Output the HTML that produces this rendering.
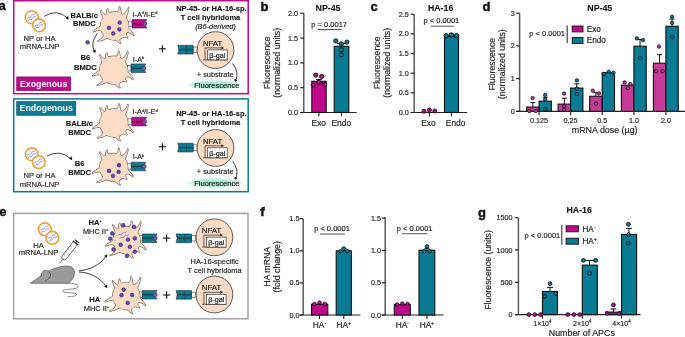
<!DOCTYPE html>
<html><head><meta charset="utf-8"><style>
html,body{margin:0;padding:0;background:#fff;width:685px;height:337px;overflow:hidden}
svg{display:block;will-change:transform}
text{font-family:"Liberation Sans",sans-serif}
</style></head><body>
<svg width="685" height="337" viewBox="0 0 685 337">
<defs><radialGradient id="glow" cx="50%" cy="50%" r="50%"><stop offset="0%" stop-color="#9be8c9"/><stop offset="50%" stop-color="#aeeed5"/><stop offset="78%" stop-color="#d6f6ea"/><stop offset="100%" stop-color="#ffffff" stop-opacity="0"/></radialGradient></defs>
<text x="-1.5" y="9.8" font-size="13" text-anchor="start" font-weight="bold" font-style="normal" fill="#111" stroke="#111" stroke-width="0.45">a</text>
<rect x="13.7" y="0.7" width="234.5" height="93.0" fill="none" stroke="#C0088C" stroke-width="1.5"/>
<rect x="13.7" y="98.9" width="234.5" height="92.8" fill="none" stroke="#097B94" stroke-width="1.5"/>
<rect x="16.7" y="76.9" width="54.0" height="13.8" fill="#C0088C" stroke="#7a0a5c" stroke-width="0.6"/>
<text x="43.6" y="86.8" font-size="8.8" text-anchor="middle" font-weight="bold" font-style="normal" fill="#fff">Exogenous</text>
<rect x="16.7" y="101.5" width="59.1" height="13.8" fill="#097B94" stroke="#0a4a5a" stroke-width="0.6"/>
<text x="46.2" y="111.1" font-size="8.8" text-anchor="middle" font-weight="bold" font-style="normal" fill="#fff">Endogenous</text>
<circle cx="31.8" cy="17.3" r="6.4" fill="#fff" stroke="#E8A23A" stroke-width="1.6"/>
<path d="M27.50,18.70 q1.0,-2.4 2.0,-1.5 t2.0,-1.3 t2.0,-1.5 t2.0,-1.3" fill="none" stroke="#8575dc" stroke-width="0.75"/>
<path d="M28.40,21.00 q1.0,-2.4 2.0,-1.5 t2.0,-1.3 t2.0,-1.5 t2.0,-1.3" fill="none" stroke="#8575dc" stroke-width="0.75"/>
<circle cx="39.1" cy="25.3" r="6.4" fill="#fff" stroke="#E8A23A" stroke-width="1.6"/>
<path d="M34.80,26.70 q1.0,-2.4 2.0,-1.5 t2.0,-1.3 t2.0,-1.5 t2.0,-1.3" fill="none" stroke="#8575dc" stroke-width="0.75"/>
<path d="M35.70,29.00 q1.0,-2.4 2.0,-1.5 t2.0,-1.3 t2.0,-1.5 t2.0,-1.3" fill="none" stroke="#8575dc" stroke-width="0.75"/>
<text x="39.5" y="41.2" font-size="7.6" text-anchor="middle" font-weight="normal" font-style="normal" fill="#262626" stroke="#262626" stroke-width="0.18">NP or HA</text>
<text x="39.6" y="49.4" font-size="7.6" text-anchor="middle" font-weight="normal" font-style="normal" fill="#262626" stroke="#262626" stroke-width="0.18">mRNA-LNP</text>
<path d="M44.4,16.3 Q57,8 68.2,18.6" fill="none" stroke="#111" stroke-width="0.8"/>
<path d="M68.80,19.50 L68.09,15.92 L65.39,18.18Z" fill="#111"/>
<text x="84.2" y="17.8" font-size="7.6" text-anchor="middle" font-weight="bold" font-style="normal" fill="#111" stroke="#111" stroke-width="0.1">BALB/c</text>
<text x="84.4" y="26.3" font-size="7.6" text-anchor="middle" font-weight="bold" font-style="normal" fill="#111" stroke="#111" stroke-width="0.1">BMDC</text>
<rect x="128.1" y="21.1" width="4.0" height="5.3999999999999995" fill="#fff" stroke="#444" stroke-width="0.6"/>
<path d="M132.1,19.5 H146.9 Q143.3,23.8 146.9,28.1 H132.1 Z" fill="#C0088C" stroke="#333" stroke-width="0.6"/>
<line x1="132.1" y1="23.8" x2="143.4" y2="23.8" stroke="#3b1a35" stroke-width="1.3"/>
<circle cx="145.0" cy="23.8" r="2.0" fill="#7a52d0" stroke="#444" stroke-width="0.7"/>
<g fill="#7a6a60" stroke="#7a6a60" stroke-width="1.3" stroke-linejoin="round"><path d="M128.50,26.00 A14.0,14.0 0 1 1 100.50,26.00 A14.0,14.0 0 1 1 128.50,26.00Z"/><path d="M107.42,15.34 L106.74,15.15 L106.10,14.94 L105.48,14.70 L104.91,14.43 L104.37,14.13 L103.86,13.81 L103.39,13.46 L102.96,13.09 L102.56,12.71 L102.20,12.31 L101.86,11.89 L101.55,11.47 L101.25,11.04 L100.96,10.62 L100.63,10.75 L100.73,11.27 L100.87,11.80 L101.04,12.32 L101.22,12.86 L101.42,13.41 L101.63,13.97 L101.85,14.56 L102.08,15.16 L102.31,15.78 L102.55,16.43 L102.80,17.10 L103.06,17.81 L103.32,18.54 L103.60,19.29Z"/><path d="M111.06,13.67 L110.57,13.46 L110.11,13.23 L109.70,12.96 L109.33,12.68 L109.00,12.37 L108.71,12.04 L108.47,11.69 L108.27,11.33 L108.12,10.95 L108.00,10.57 L107.93,10.17 L107.88,9.77 L107.86,9.37 L107.85,8.95 L107.50,8.86 L107.30,9.25 L107.14,9.67 L107.00,10.10 L106.88,10.55 L106.78,11.01 L106.69,11.49 L106.60,11.98 L106.52,12.51 L106.45,13.05 L106.38,13.63 L106.32,14.24 L106.27,14.87 L106.23,15.55 L106.20,16.25Z"/><path d="M121.36,15.19 L121.26,14.42 L121.16,13.68 L121.05,12.97 L120.94,12.29 L120.83,11.64 L120.72,11.02 L120.61,10.42 L120.49,9.85 L120.37,9.29 L120.24,8.75 L120.10,8.23 L119.94,7.72 L119.75,7.23 L119.53,6.76 L119.18,6.85 L119.20,7.35 L119.20,7.84 L119.18,8.33 L119.12,8.82 L119.03,9.31 L118.90,9.79 L118.72,10.27 L118.50,10.75 L118.23,11.21 L117.92,11.66 L117.55,12.10 L117.14,12.52 L116.69,12.93 L116.19,13.31Z"/><path d="M125.28,19.11 L125.69,18.19 L126.07,17.29 L126.42,16.42 L126.75,15.57 L127.06,14.73 L127.35,13.91 L127.61,13.11 L127.86,12.32 L128.09,11.54 L128.30,10.76 L128.48,9.99 L128.63,9.21 L128.75,8.44 L128.82,7.65 L128.47,7.58 L128.20,8.30 L127.91,9.00 L127.60,9.69 L127.25,10.35 L126.87,11.00 L126.44,11.61 L125.96,12.19 L125.44,12.74 L124.87,13.26 L124.26,13.74 L123.60,14.17 L122.90,14.56 L122.17,14.91 L121.39,15.22Z"/><path d="M125.54,32.48 L126.23,32.35 L126.91,32.28 L127.58,32.27 L128.23,32.32 L128.87,32.42 L129.49,32.58 L130.08,32.79 L130.65,33.05 L131.19,33.37 L131.71,33.72 L132.21,34.12 L132.68,34.55 L133.13,35.01 L133.58,35.50 L133.89,35.31 L133.60,34.69 L133.27,34.09 L132.91,33.51 L132.52,32.94 L132.11,32.39 L131.68,31.83 L131.22,31.28 L130.74,30.73 L130.24,30.16 L129.70,29.60 L129.14,29.02 L128.54,28.44 L127.91,27.85 L127.24,27.25Z"/><path d="M121.95,36.41 L122.52,36.46 L123.06,36.52 L123.57,36.59 L124.04,36.67 L124.49,36.77 L124.91,36.88 L125.29,36.99 L125.65,37.11 L125.99,37.24 L126.30,37.38 L126.59,37.51 L126.86,37.63 L127.12,37.75 L127.38,37.84 L127.63,37.58 L127.50,37.33 L127.36,37.08 L127.21,36.82 L127.05,36.54 L126.88,36.25 L126.72,35.93 L126.56,35.58 L126.40,35.21 L126.26,34.81 L126.11,34.38 L125.98,33.91 L125.85,33.41 L125.74,32.88 L125.63,32.32Z"/><path d="M114.86,38.79 L115.35,39.31 L115.84,39.80 L116.30,40.25 L116.76,40.67 L117.19,41.07 L117.62,41.44 L118.03,41.79 L118.43,42.12 L118.82,42.42 L119.21,42.71 L119.60,42.98 L119.99,43.22 L120.40,43.44 L120.81,43.62 L121.02,43.32 L120.74,42.99 L120.49,42.66 L120.25,42.32 L120.04,41.96 L119.86,41.59 L119.72,41.19 L119.62,40.77 L119.57,40.34 L119.55,39.89 L119.59,39.43 L119.67,38.95 L119.79,38.46 L119.97,37.97 L120.19,37.46Z"/><path d="M104.36,33.81 L104.17,34.54 L103.94,35.25 L103.66,35.92 L103.33,36.55 L102.96,37.15 L102.54,37.71 L102.09,38.22 L101.59,38.69 L101.06,39.12 L100.50,39.51 L99.92,39.86 L99.30,40.18 L98.67,40.47 L98.02,40.75 L98.10,41.10 L98.83,41.02 L99.54,40.89 L100.26,40.73 L100.96,40.54 L101.67,40.32 L102.38,40.08 L103.10,39.82 L103.83,39.54 L104.58,39.23 L105.34,38.91 L106.12,38.56 L106.91,38.18 L107.73,37.78 L108.57,37.34Z"/><path d="M101.71,25.46 L100.96,25.96 L100.23,26.44 L99.53,26.91 L98.86,27.36 L98.21,27.81 L97.58,28.24 L96.97,28.66 L96.38,29.07 L95.81,29.48 L95.26,29.89 L94.72,30.30 L94.21,30.72 L93.72,31.15 L93.27,31.61 L93.49,31.90 L94.05,31.62 L94.62,31.35 L95.19,31.10 L95.79,30.88 L96.40,30.68 L97.03,30.53 L97.68,30.41 L98.35,30.34 L99.04,30.31 L99.74,30.33 L100.46,30.39 L101.18,30.51 L101.92,30.67 L102.67,30.88Z"/></g><g fill="#FCDCC5"><path d="M128.50,26.00 A14.0,14.0 0 1 1 100.50,26.00 A14.0,14.0 0 1 1 128.50,26.00Z"/><path d="M107.42,15.34 L106.74,15.15 L106.10,14.94 L105.48,14.70 L104.91,14.43 L104.37,14.13 L103.86,13.81 L103.39,13.46 L102.96,13.09 L102.56,12.71 L102.20,12.31 L101.86,11.89 L101.55,11.47 L101.25,11.04 L100.96,10.62 L100.63,10.75 L100.73,11.27 L100.87,11.80 L101.04,12.32 L101.22,12.86 L101.42,13.41 L101.63,13.97 L101.85,14.56 L102.08,15.16 L102.31,15.78 L102.55,16.43 L102.80,17.10 L103.06,17.81 L103.32,18.54 L103.60,19.29Z"/><path d="M111.06,13.67 L110.57,13.46 L110.11,13.23 L109.70,12.96 L109.33,12.68 L109.00,12.37 L108.71,12.04 L108.47,11.69 L108.27,11.33 L108.12,10.95 L108.00,10.57 L107.93,10.17 L107.88,9.77 L107.86,9.37 L107.85,8.95 L107.50,8.86 L107.30,9.25 L107.14,9.67 L107.00,10.10 L106.88,10.55 L106.78,11.01 L106.69,11.49 L106.60,11.98 L106.52,12.51 L106.45,13.05 L106.38,13.63 L106.32,14.24 L106.27,14.87 L106.23,15.55 L106.20,16.25Z"/><path d="M121.36,15.19 L121.26,14.42 L121.16,13.68 L121.05,12.97 L120.94,12.29 L120.83,11.64 L120.72,11.02 L120.61,10.42 L120.49,9.85 L120.37,9.29 L120.24,8.75 L120.10,8.23 L119.94,7.72 L119.75,7.23 L119.53,6.76 L119.18,6.85 L119.20,7.35 L119.20,7.84 L119.18,8.33 L119.12,8.82 L119.03,9.31 L118.90,9.79 L118.72,10.27 L118.50,10.75 L118.23,11.21 L117.92,11.66 L117.55,12.10 L117.14,12.52 L116.69,12.93 L116.19,13.31Z"/><path d="M125.28,19.11 L125.69,18.19 L126.07,17.29 L126.42,16.42 L126.75,15.57 L127.06,14.73 L127.35,13.91 L127.61,13.11 L127.86,12.32 L128.09,11.54 L128.30,10.76 L128.48,9.99 L128.63,9.21 L128.75,8.44 L128.82,7.65 L128.47,7.58 L128.20,8.30 L127.91,9.00 L127.60,9.69 L127.25,10.35 L126.87,11.00 L126.44,11.61 L125.96,12.19 L125.44,12.74 L124.87,13.26 L124.26,13.74 L123.60,14.17 L122.90,14.56 L122.17,14.91 L121.39,15.22Z"/><path d="M125.54,32.48 L126.23,32.35 L126.91,32.28 L127.58,32.27 L128.23,32.32 L128.87,32.42 L129.49,32.58 L130.08,32.79 L130.65,33.05 L131.19,33.37 L131.71,33.72 L132.21,34.12 L132.68,34.55 L133.13,35.01 L133.58,35.50 L133.89,35.31 L133.60,34.69 L133.27,34.09 L132.91,33.51 L132.52,32.94 L132.11,32.39 L131.68,31.83 L131.22,31.28 L130.74,30.73 L130.24,30.16 L129.70,29.60 L129.14,29.02 L128.54,28.44 L127.91,27.85 L127.24,27.25Z"/><path d="M121.95,36.41 L122.52,36.46 L123.06,36.52 L123.57,36.59 L124.04,36.67 L124.49,36.77 L124.91,36.88 L125.29,36.99 L125.65,37.11 L125.99,37.24 L126.30,37.38 L126.59,37.51 L126.86,37.63 L127.12,37.75 L127.38,37.84 L127.63,37.58 L127.50,37.33 L127.36,37.08 L127.21,36.82 L127.05,36.54 L126.88,36.25 L126.72,35.93 L126.56,35.58 L126.40,35.21 L126.26,34.81 L126.11,34.38 L125.98,33.91 L125.85,33.41 L125.74,32.88 L125.63,32.32Z"/><path d="M114.86,38.79 L115.35,39.31 L115.84,39.80 L116.30,40.25 L116.76,40.67 L117.19,41.07 L117.62,41.44 L118.03,41.79 L118.43,42.12 L118.82,42.42 L119.21,42.71 L119.60,42.98 L119.99,43.22 L120.40,43.44 L120.81,43.62 L121.02,43.32 L120.74,42.99 L120.49,42.66 L120.25,42.32 L120.04,41.96 L119.86,41.59 L119.72,41.19 L119.62,40.77 L119.57,40.34 L119.55,39.89 L119.59,39.43 L119.67,38.95 L119.79,38.46 L119.97,37.97 L120.19,37.46Z"/><path d="M104.36,33.81 L104.17,34.54 L103.94,35.25 L103.66,35.92 L103.33,36.55 L102.96,37.15 L102.54,37.71 L102.09,38.22 L101.59,38.69 L101.06,39.12 L100.50,39.51 L99.92,39.86 L99.30,40.18 L98.67,40.47 L98.02,40.75 L98.10,41.10 L98.83,41.02 L99.54,40.89 L100.26,40.73 L100.96,40.54 L101.67,40.32 L102.38,40.08 L103.10,39.82 L103.83,39.54 L104.58,39.23 L105.34,38.91 L106.12,38.56 L106.91,38.18 L107.73,37.78 L108.57,37.34Z"/><path d="M101.71,25.46 L100.96,25.96 L100.23,26.44 L99.53,26.91 L98.86,27.36 L98.21,27.81 L97.58,28.24 L96.97,28.66 L96.38,29.07 L95.81,29.48 L95.26,29.89 L94.72,30.30 L94.21,30.72 L93.72,31.15 L93.27,31.61 L93.49,31.90 L94.05,31.62 L94.62,31.35 L95.19,31.10 L95.79,30.88 L96.40,30.68 L97.03,30.53 L97.68,30.41 L98.35,30.34 L99.04,30.31 L99.74,30.33 L100.46,30.39 L101.18,30.51 L101.92,30.67 L102.67,30.88Z"/></g>
<circle cx="119.7" cy="22.6" r="1.85" fill="#6a45b8" stroke="#3a2470" stroke-width="0.6"/>
<circle cx="109" cy="27.9" r="1.85" fill="#6a45b8" stroke="#3a2470" stroke-width="0.6"/>
<circle cx="119.4" cy="29.4" r="1.85" fill="#6a45b8" stroke="#3a2470" stroke-width="0.6"/>
<circle cx="113.3" cy="33.4" r="1.85" fill="#6a45b8" stroke="#3a2470" stroke-width="0.6"/>
<text x="132.5" y="16.9" font-size="7.3" text-anchor="start" font-weight="normal" font-style="normal" fill="#222" stroke="#222" stroke-width="0.18">I-A<tspan font-size="3.9" dy="-2.8">d</tspan><tspan dy="2.8">/I-E<tspan font-size="3.9" dy="-2.8">d</tspan><tspan dy="2.8"></tspan></tspan></text>
<circle cx="87.6" cy="42.3" r="1.85" fill="#6a45b8" stroke="#3a2470" stroke-width="0.6"/>
<path d="M97.4,33.3 Q90,43 94.4,51.2" fill="none" stroke="#111" stroke-width="0.8"/>
<path d="M95.20,53.30 L95.89,49.71 L92.54,50.80Z" fill="#111"/>
<text x="85.4" y="60.4" font-size="7.6" text-anchor="middle" font-weight="bold" font-style="normal" fill="#111" stroke="#111" stroke-width="0.1">B6</text>
<text x="85.4" y="69.5" font-size="7.6" text-anchor="middle" font-weight="bold" font-style="normal" fill="#111" stroke="#111" stroke-width="0.1">BMDC</text>
<rect x="127.0" y="65.5" width="4.0" height="5.3999999999999995" fill="#fff" stroke="#444" stroke-width="0.6"/>
<path d="M131.0,63.9 H145.8 Q142.20000000000002,68.2 145.8,72.5 H131.0 Z" fill="#097B94" stroke="#333" stroke-width="0.6"/>
<line x1="131.0" y1="68.2" x2="142.3" y2="68.2" stroke="#1d3b42" stroke-width="1.3"/>
<circle cx="143.9" cy="68.2" r="2.0" fill="#7a52d0" stroke="#444" stroke-width="0.7"/>
<g fill="#7a6a60" stroke="#7a6a60" stroke-width="1.3" stroke-linejoin="round"><path d="M127.70,70.20 A14.0,14.0 0 1 1 99.70,70.20 A14.0,14.0 0 1 1 127.70,70.20Z"/><path d="M106.62,59.54 L105.94,59.35 L105.30,59.14 L104.68,58.90 L104.11,58.63 L103.57,58.33 L103.06,58.01 L102.59,57.66 L102.16,57.29 L101.76,56.91 L101.40,56.51 L101.06,56.09 L100.75,55.67 L100.45,55.24 L100.16,54.82 L99.83,54.95 L99.93,55.47 L100.07,56.00 L100.24,56.52 L100.42,57.06 L100.62,57.61 L100.83,58.17 L101.05,58.76 L101.28,59.36 L101.51,59.98 L101.75,60.63 L102.00,61.30 L102.26,62.01 L102.52,62.74 L102.80,63.49Z"/><path d="M110.26,57.87 L109.77,57.66 L109.31,57.43 L108.90,57.16 L108.53,56.88 L108.20,56.57 L107.91,56.24 L107.67,55.89 L107.47,55.53 L107.32,55.15 L107.20,54.77 L107.13,54.37 L107.08,53.97 L107.06,53.57 L107.05,53.15 L106.70,53.06 L106.50,53.45 L106.34,53.87 L106.20,54.30 L106.08,54.75 L105.98,55.21 L105.89,55.69 L105.80,56.18 L105.72,56.71 L105.65,57.25 L105.58,57.83 L105.52,58.44 L105.47,59.07 L105.43,59.75 L105.40,60.45Z"/><path d="M120.56,59.39 L120.46,58.62 L120.36,57.88 L120.25,57.17 L120.14,56.49 L120.03,55.84 L119.92,55.22 L119.81,54.62 L119.69,54.05 L119.57,53.49 L119.44,52.95 L119.30,52.43 L119.14,51.92 L118.95,51.43 L118.73,50.96 L118.38,51.05 L118.40,51.55 L118.40,52.04 L118.38,52.53 L118.32,53.02 L118.23,53.51 L118.10,53.99 L117.92,54.47 L117.70,54.95 L117.43,55.41 L117.12,55.86 L116.75,56.30 L116.34,56.72 L115.89,57.13 L115.39,57.51Z"/><path d="M124.48,63.31 L124.89,62.39 L125.27,61.49 L125.62,60.62 L125.95,59.77 L126.26,58.93 L126.55,58.11 L126.81,57.31 L127.06,56.52 L127.29,55.74 L127.50,54.96 L127.68,54.19 L127.83,53.41 L127.95,52.64 L128.02,51.85 L127.67,51.78 L127.40,52.50 L127.11,53.20 L126.80,53.89 L126.45,54.55 L126.07,55.20 L125.64,55.81 L125.16,56.39 L124.64,56.94 L124.07,57.46 L123.46,57.94 L122.80,58.37 L122.10,58.76 L121.37,59.11 L120.59,59.42Z"/><path d="M124.74,76.68 L125.43,76.55 L126.11,76.48 L126.78,76.47 L127.43,76.52 L128.07,76.62 L128.69,76.78 L129.28,76.99 L129.85,77.25 L130.39,77.57 L130.91,77.92 L131.41,78.32 L131.88,78.75 L132.33,79.21 L132.78,79.70 L133.09,79.51 L132.80,78.89 L132.47,78.29 L132.11,77.71 L131.72,77.14 L131.31,76.59 L130.88,76.03 L130.42,75.48 L129.94,74.93 L129.44,74.36 L128.90,73.80 L128.34,73.22 L127.74,72.64 L127.11,72.05 L126.44,71.45Z"/><path d="M121.15,80.61 L121.72,80.66 L122.26,80.72 L122.77,80.79 L123.24,80.87 L123.69,80.97 L124.11,81.08 L124.49,81.19 L124.85,81.31 L125.19,81.44 L125.50,81.58 L125.79,81.71 L126.06,81.83 L126.32,81.95 L126.58,82.04 L126.83,81.78 L126.70,81.53 L126.56,81.28 L126.41,81.02 L126.25,80.74 L126.08,80.45 L125.92,80.13 L125.76,79.78 L125.60,79.41 L125.46,79.01 L125.31,78.58 L125.18,78.11 L125.05,77.61 L124.94,77.08 L124.83,76.52Z"/><path d="M114.06,82.99 L114.55,83.51 L115.04,84.00 L115.50,84.45 L115.96,84.87 L116.39,85.27 L116.82,85.64 L117.23,85.99 L117.63,86.32 L118.02,86.62 L118.41,86.91 L118.80,87.18 L119.19,87.42 L119.60,87.64 L120.01,87.82 L120.22,87.52 L119.94,87.19 L119.69,86.86 L119.45,86.52 L119.24,86.16 L119.06,85.79 L118.92,85.39 L118.82,84.97 L118.77,84.54 L118.75,84.09 L118.79,83.63 L118.87,83.15 L118.99,82.66 L119.17,82.17 L119.39,81.66Z"/><path d="M103.56,78.01 L103.37,78.74 L103.14,79.45 L102.86,80.12 L102.53,80.75 L102.16,81.35 L101.74,81.91 L101.29,82.42 L100.79,82.89 L100.26,83.32 L99.70,83.71 L99.12,84.06 L98.50,84.38 L97.87,84.67 L97.22,84.95 L97.30,85.30 L98.03,85.22 L98.74,85.09 L99.46,84.93 L100.16,84.74 L100.87,84.52 L101.58,84.28 L102.30,84.02 L103.03,83.74 L103.78,83.43 L104.54,83.11 L105.32,82.76 L106.11,82.38 L106.93,81.98 L107.77,81.54Z"/><path d="M100.91,69.66 L100.16,70.16 L99.43,70.64 L98.73,71.11 L98.06,71.56 L97.41,72.01 L96.78,72.44 L96.17,72.86 L95.58,73.27 L95.01,73.68 L94.46,74.09 L93.92,74.50 L93.41,74.92 L92.92,75.35 L92.47,75.81 L92.69,76.10 L93.25,75.82 L93.82,75.55 L94.39,75.30 L94.99,75.08 L95.60,74.88 L96.23,74.73 L96.88,74.61 L97.55,74.54 L98.24,74.51 L98.94,74.53 L99.66,74.59 L100.38,74.71 L101.12,74.87 L101.87,75.08Z"/></g><g fill="#FCDCC5"><path d="M127.70,70.20 A14.0,14.0 0 1 1 99.70,70.20 A14.0,14.0 0 1 1 127.70,70.20Z"/><path d="M106.62,59.54 L105.94,59.35 L105.30,59.14 L104.68,58.90 L104.11,58.63 L103.57,58.33 L103.06,58.01 L102.59,57.66 L102.16,57.29 L101.76,56.91 L101.40,56.51 L101.06,56.09 L100.75,55.67 L100.45,55.24 L100.16,54.82 L99.83,54.95 L99.93,55.47 L100.07,56.00 L100.24,56.52 L100.42,57.06 L100.62,57.61 L100.83,58.17 L101.05,58.76 L101.28,59.36 L101.51,59.98 L101.75,60.63 L102.00,61.30 L102.26,62.01 L102.52,62.74 L102.80,63.49Z"/><path d="M110.26,57.87 L109.77,57.66 L109.31,57.43 L108.90,57.16 L108.53,56.88 L108.20,56.57 L107.91,56.24 L107.67,55.89 L107.47,55.53 L107.32,55.15 L107.20,54.77 L107.13,54.37 L107.08,53.97 L107.06,53.57 L107.05,53.15 L106.70,53.06 L106.50,53.45 L106.34,53.87 L106.20,54.30 L106.08,54.75 L105.98,55.21 L105.89,55.69 L105.80,56.18 L105.72,56.71 L105.65,57.25 L105.58,57.83 L105.52,58.44 L105.47,59.07 L105.43,59.75 L105.40,60.45Z"/><path d="M120.56,59.39 L120.46,58.62 L120.36,57.88 L120.25,57.17 L120.14,56.49 L120.03,55.84 L119.92,55.22 L119.81,54.62 L119.69,54.05 L119.57,53.49 L119.44,52.95 L119.30,52.43 L119.14,51.92 L118.95,51.43 L118.73,50.96 L118.38,51.05 L118.40,51.55 L118.40,52.04 L118.38,52.53 L118.32,53.02 L118.23,53.51 L118.10,53.99 L117.92,54.47 L117.70,54.95 L117.43,55.41 L117.12,55.86 L116.75,56.30 L116.34,56.72 L115.89,57.13 L115.39,57.51Z"/><path d="M124.48,63.31 L124.89,62.39 L125.27,61.49 L125.62,60.62 L125.95,59.77 L126.26,58.93 L126.55,58.11 L126.81,57.31 L127.06,56.52 L127.29,55.74 L127.50,54.96 L127.68,54.19 L127.83,53.41 L127.95,52.64 L128.02,51.85 L127.67,51.78 L127.40,52.50 L127.11,53.20 L126.80,53.89 L126.45,54.55 L126.07,55.20 L125.64,55.81 L125.16,56.39 L124.64,56.94 L124.07,57.46 L123.46,57.94 L122.80,58.37 L122.10,58.76 L121.37,59.11 L120.59,59.42Z"/><path d="M124.74,76.68 L125.43,76.55 L126.11,76.48 L126.78,76.47 L127.43,76.52 L128.07,76.62 L128.69,76.78 L129.28,76.99 L129.85,77.25 L130.39,77.57 L130.91,77.92 L131.41,78.32 L131.88,78.75 L132.33,79.21 L132.78,79.70 L133.09,79.51 L132.80,78.89 L132.47,78.29 L132.11,77.71 L131.72,77.14 L131.31,76.59 L130.88,76.03 L130.42,75.48 L129.94,74.93 L129.44,74.36 L128.90,73.80 L128.34,73.22 L127.74,72.64 L127.11,72.05 L126.44,71.45Z"/><path d="M121.15,80.61 L121.72,80.66 L122.26,80.72 L122.77,80.79 L123.24,80.87 L123.69,80.97 L124.11,81.08 L124.49,81.19 L124.85,81.31 L125.19,81.44 L125.50,81.58 L125.79,81.71 L126.06,81.83 L126.32,81.95 L126.58,82.04 L126.83,81.78 L126.70,81.53 L126.56,81.28 L126.41,81.02 L126.25,80.74 L126.08,80.45 L125.92,80.13 L125.76,79.78 L125.60,79.41 L125.46,79.01 L125.31,78.58 L125.18,78.11 L125.05,77.61 L124.94,77.08 L124.83,76.52Z"/><path d="M114.06,82.99 L114.55,83.51 L115.04,84.00 L115.50,84.45 L115.96,84.87 L116.39,85.27 L116.82,85.64 L117.23,85.99 L117.63,86.32 L118.02,86.62 L118.41,86.91 L118.80,87.18 L119.19,87.42 L119.60,87.64 L120.01,87.82 L120.22,87.52 L119.94,87.19 L119.69,86.86 L119.45,86.52 L119.24,86.16 L119.06,85.79 L118.92,85.39 L118.82,84.97 L118.77,84.54 L118.75,84.09 L118.79,83.63 L118.87,83.15 L118.99,82.66 L119.17,82.17 L119.39,81.66Z"/><path d="M103.56,78.01 L103.37,78.74 L103.14,79.45 L102.86,80.12 L102.53,80.75 L102.16,81.35 L101.74,81.91 L101.29,82.42 L100.79,82.89 L100.26,83.32 L99.70,83.71 L99.12,84.06 L98.50,84.38 L97.87,84.67 L97.22,84.95 L97.30,85.30 L98.03,85.22 L98.74,85.09 L99.46,84.93 L100.16,84.74 L100.87,84.52 L101.58,84.28 L102.30,84.02 L103.03,83.74 L103.78,83.43 L104.54,83.11 L105.32,82.76 L106.11,82.38 L106.93,81.98 L107.77,81.54Z"/><path d="M100.91,69.66 L100.16,70.16 L99.43,70.64 L98.73,71.11 L98.06,71.56 L97.41,72.01 L96.78,72.44 L96.17,72.86 L95.58,73.27 L95.01,73.68 L94.46,74.09 L93.92,74.50 L93.41,74.92 L92.92,75.35 L92.47,75.81 L92.69,76.10 L93.25,75.82 L93.82,75.55 L94.39,75.30 L94.99,75.08 L95.60,74.88 L96.23,74.73 L96.88,74.61 L97.55,74.54 L98.24,74.51 L98.94,74.53 L99.66,74.59 L100.38,74.71 L101.12,74.87 L101.87,75.08Z"/></g>
<text x="132.7" y="61.5" font-size="7.3" text-anchor="start" font-weight="normal" font-style="normal" fill="#222" stroke="#222" stroke-width="0.18">I-A<tspan font-size="3.9" dy="-2.8">b</tspan><tspan dy="2.8"></tspan></text>
<line x1="158.9" y1="48.8" x2="165.9" y2="48.8" stroke="#111" stroke-width="1.1"/>
<line x1="162.4" y1="45.3" x2="162.4" y2="52.3" stroke="#111" stroke-width="1.1"/>
<rect x="193.2" y="47.0" width="4.0" height="5.4" fill="#fff" stroke="#444" stroke-width="0.6"/>
<path d="M177.7,45.3 H193.2 V54.099999999999994 H177.7 L178.89999999999998,49.699999999999996 Z" fill="#097B94" stroke="#333" stroke-width="0.6"/>
<line x1="178.7" y1="49.699999999999996" x2="193.2" y2="49.699999999999996" stroke="#22383d" stroke-width="1.1"/>
<line x1="186.535" y1="45.3" x2="186.535" y2="54.099999999999994" stroke="#22383d" stroke-width="0.6"/>
<circle cx="215.5" cy="50.1" r="18.4" fill="#FCDCC5" stroke="#333" stroke-width="0.8"/>
<text x="202.9" y="45.800000000000004" font-size="7.8" text-anchor="start" font-weight="normal" font-style="normal" fill="#1a1a1a" stroke="#1a1a1a" stroke-width="0.18">NFAT</text>
<path d="M205.0,59.900000000000006 V47.9 H221.8" fill="none" stroke="#222" stroke-width="0.7"/>
<path d="M224.1,47.9 L221.3,46.4 L221.3,49.4 Z" fill="#222"/>
<path d="M203.2,59.900000000000006 H227.5" fill="none" stroke="#222" stroke-width="0.7"/>
<rect x="207.7" y="49.9" width="19.5" height="10.0" fill="#fff" stroke="#333" stroke-width="0.7"/>
<text x="217.4" y="57.6" font-size="7.2" text-anchor="middle" font-weight="normal" font-style="normal" fill="#222" stroke="#222" stroke-width="0.18">β-gal</text>
<text x="215.2" y="76.5" font-size="7.4" text-anchor="middle" font-weight="normal" font-style="normal" fill="#262626" stroke="#262626" stroke-width="0.18">+ substrate</text>
<path d="M232.6,63.5 Q239.5,72 235.6,80.8" fill="none" stroke="#111" stroke-width="0.8"/>
<path d="M235.10,82.60 L237.63,79.96 L234.23,79.05Z" fill="#111"/>
<ellipse cx="215" cy="85" rx="31.5" ry="5.6" fill="url(#glow)"/>
<text x="216.8" y="88.4" font-size="7.5" text-anchor="middle" font-weight="normal" font-style="normal" fill="#222" stroke="#222" stroke-width="0.18">Fluorescence</text>
<text x="211.4" y="10.7" font-size="7.5" text-anchor="middle" font-weight="bold" font-style="normal" fill="#111" stroke="#111" stroke-width="0.1">NP-45- or HA-16-sp.</text>
<text x="210.5" y="19.6" font-size="7.5" text-anchor="middle" font-weight="bold" font-style="normal" fill="#111" stroke="#111" stroke-width="0.1">T cell hybridoma</text>
<text x="215.5" y="28.8" font-size="7.4" text-anchor="middle" font-weight="normal" font-style="italic" fill="#262626" stroke="#262626" stroke-width="0.18">(B6-derived)</text>
<text x="79.4" y="126.0" font-size="7.6" text-anchor="middle" font-weight="bold" font-style="normal" fill="#111" stroke="#111" stroke-width="0.1">BALB/c</text>
<text x="79.6" y="135.0" font-size="7.6" text-anchor="middle" font-weight="bold" font-style="normal" fill="#111" stroke="#111" stroke-width="0.1">BMDC</text>
<rect x="127.80000000000001" y="118.89999999999999" width="4.0" height="5.3999999999999995" fill="#fff" stroke="#444" stroke-width="0.6"/>
<path d="M131.8,117.3 H146.60000000000002 Q143.00000000000003,121.6 146.60000000000002,125.89999999999999 H131.8 Z" fill="#C0088C" stroke="#333" stroke-width="0.6"/>
<line x1="131.8" y1="121.6" x2="143.10000000000002" y2="121.6" stroke="#3b1a35" stroke-width="1.3"/>
<circle cx="144.70000000000002" cy="121.6" r="2.0" fill="#7a52d0" stroke="#444" stroke-width="0.7"/>
<g fill="#7a6a60" stroke="#7a6a60" stroke-width="1.3" stroke-linejoin="round"><path d="M127.80,123.00 A14.0,14.0 0 1 1 99.80,123.00 A14.0,14.0 0 1 1 127.80,123.00Z"/><path d="M106.72,112.34 L106.04,112.15 L105.40,111.94 L104.78,111.70 L104.21,111.43 L103.67,111.13 L103.16,110.81 L102.69,110.46 L102.26,110.09 L101.86,109.71 L101.50,109.31 L101.16,108.89 L100.85,108.47 L100.55,108.04 L100.26,107.62 L99.93,107.75 L100.03,108.27 L100.17,108.80 L100.34,109.32 L100.52,109.86 L100.72,110.41 L100.93,110.97 L101.15,111.56 L101.38,112.16 L101.61,112.78 L101.85,113.43 L102.10,114.10 L102.36,114.81 L102.62,115.54 L102.90,116.29Z"/><path d="M110.36,110.67 L109.87,110.46 L109.41,110.23 L109.00,109.96 L108.63,109.68 L108.30,109.37 L108.01,109.04 L107.77,108.69 L107.57,108.33 L107.42,107.95 L107.30,107.57 L107.23,107.17 L107.18,106.77 L107.16,106.37 L107.15,105.95 L106.80,105.86 L106.60,106.25 L106.44,106.67 L106.30,107.10 L106.18,107.55 L106.08,108.01 L105.99,108.49 L105.90,108.98 L105.82,109.51 L105.75,110.05 L105.68,110.63 L105.62,111.24 L105.57,111.87 L105.53,112.55 L105.50,113.25Z"/><path d="M120.66,112.19 L120.56,111.42 L120.46,110.68 L120.35,109.97 L120.24,109.29 L120.13,108.64 L120.02,108.02 L119.91,107.42 L119.79,106.85 L119.67,106.29 L119.54,105.75 L119.40,105.23 L119.24,104.72 L119.05,104.23 L118.83,103.76 L118.48,103.85 L118.50,104.35 L118.50,104.84 L118.48,105.33 L118.42,105.82 L118.33,106.31 L118.20,106.79 L118.02,107.27 L117.80,107.75 L117.53,108.21 L117.22,108.66 L116.85,109.10 L116.44,109.52 L115.99,109.93 L115.49,110.31Z"/><path d="M124.58,116.11 L124.99,115.19 L125.37,114.29 L125.72,113.42 L126.05,112.57 L126.36,111.73 L126.65,110.91 L126.91,110.11 L127.16,109.32 L127.39,108.54 L127.60,107.76 L127.78,106.99 L127.93,106.21 L128.05,105.44 L128.12,104.65 L127.77,104.58 L127.50,105.30 L127.21,106.00 L126.90,106.69 L126.55,107.35 L126.17,108.00 L125.74,108.61 L125.26,109.19 L124.74,109.74 L124.17,110.26 L123.56,110.74 L122.90,111.17 L122.20,111.56 L121.47,111.91 L120.69,112.22Z"/><path d="M124.84,129.48 L125.53,129.35 L126.21,129.28 L126.88,129.27 L127.53,129.32 L128.17,129.42 L128.79,129.58 L129.38,129.79 L129.95,130.05 L130.49,130.37 L131.01,130.72 L131.51,131.12 L131.98,131.55 L132.43,132.01 L132.88,132.50 L133.19,132.31 L132.90,131.69 L132.57,131.09 L132.21,130.51 L131.82,129.94 L131.41,129.39 L130.98,128.83 L130.52,128.28 L130.04,127.73 L129.54,127.16 L129.00,126.60 L128.44,126.02 L127.84,125.44 L127.21,124.85 L126.54,124.25Z"/><path d="M121.25,133.41 L121.82,133.46 L122.36,133.52 L122.87,133.59 L123.34,133.67 L123.79,133.77 L124.21,133.88 L124.59,133.99 L124.95,134.11 L125.29,134.24 L125.60,134.38 L125.89,134.51 L126.16,134.63 L126.42,134.75 L126.68,134.84 L126.93,134.58 L126.80,134.33 L126.66,134.08 L126.51,133.82 L126.35,133.54 L126.18,133.25 L126.02,132.93 L125.86,132.58 L125.70,132.21 L125.56,131.81 L125.41,131.38 L125.28,130.91 L125.15,130.41 L125.04,129.88 L124.93,129.32Z"/><path d="M114.16,135.79 L114.65,136.31 L115.14,136.80 L115.60,137.25 L116.06,137.67 L116.49,138.07 L116.92,138.44 L117.33,138.79 L117.73,139.12 L118.12,139.42 L118.51,139.71 L118.90,139.98 L119.29,140.22 L119.70,140.44 L120.11,140.62 L120.32,140.32 L120.04,139.99 L119.79,139.66 L119.55,139.32 L119.34,138.96 L119.16,138.59 L119.02,138.19 L118.92,137.77 L118.87,137.34 L118.85,136.89 L118.89,136.43 L118.97,135.95 L119.09,135.46 L119.27,134.97 L119.49,134.46Z"/><path d="M103.66,130.81 L103.47,131.54 L103.24,132.25 L102.96,132.92 L102.63,133.55 L102.26,134.15 L101.84,134.71 L101.39,135.22 L100.89,135.69 L100.36,136.12 L99.80,136.51 L99.22,136.86 L98.60,137.18 L97.97,137.47 L97.32,137.75 L97.40,138.10 L98.13,138.02 L98.84,137.89 L99.56,137.73 L100.26,137.54 L100.97,137.32 L101.68,137.08 L102.40,136.82 L103.13,136.54 L103.88,136.23 L104.64,135.91 L105.42,135.56 L106.21,135.18 L107.03,134.78 L107.87,134.34Z"/><path d="M101.01,122.46 L100.26,122.96 L99.53,123.44 L98.83,123.91 L98.16,124.36 L97.51,124.81 L96.88,125.24 L96.27,125.66 L95.68,126.07 L95.11,126.48 L94.56,126.89 L94.02,127.30 L93.51,127.72 L93.02,128.15 L92.57,128.61 L92.79,128.90 L93.35,128.62 L93.92,128.35 L94.49,128.10 L95.09,127.88 L95.70,127.68 L96.33,127.53 L96.98,127.41 L97.65,127.34 L98.34,127.31 L99.04,127.33 L99.76,127.39 L100.48,127.51 L101.22,127.67 L101.97,127.88Z"/></g><g fill="#FCDCC5"><path d="M127.80,123.00 A14.0,14.0 0 1 1 99.80,123.00 A14.0,14.0 0 1 1 127.80,123.00Z"/><path d="M106.72,112.34 L106.04,112.15 L105.40,111.94 L104.78,111.70 L104.21,111.43 L103.67,111.13 L103.16,110.81 L102.69,110.46 L102.26,110.09 L101.86,109.71 L101.50,109.31 L101.16,108.89 L100.85,108.47 L100.55,108.04 L100.26,107.62 L99.93,107.75 L100.03,108.27 L100.17,108.80 L100.34,109.32 L100.52,109.86 L100.72,110.41 L100.93,110.97 L101.15,111.56 L101.38,112.16 L101.61,112.78 L101.85,113.43 L102.10,114.10 L102.36,114.81 L102.62,115.54 L102.90,116.29Z"/><path d="M110.36,110.67 L109.87,110.46 L109.41,110.23 L109.00,109.96 L108.63,109.68 L108.30,109.37 L108.01,109.04 L107.77,108.69 L107.57,108.33 L107.42,107.95 L107.30,107.57 L107.23,107.17 L107.18,106.77 L107.16,106.37 L107.15,105.95 L106.80,105.86 L106.60,106.25 L106.44,106.67 L106.30,107.10 L106.18,107.55 L106.08,108.01 L105.99,108.49 L105.90,108.98 L105.82,109.51 L105.75,110.05 L105.68,110.63 L105.62,111.24 L105.57,111.87 L105.53,112.55 L105.50,113.25Z"/><path d="M120.66,112.19 L120.56,111.42 L120.46,110.68 L120.35,109.97 L120.24,109.29 L120.13,108.64 L120.02,108.02 L119.91,107.42 L119.79,106.85 L119.67,106.29 L119.54,105.75 L119.40,105.23 L119.24,104.72 L119.05,104.23 L118.83,103.76 L118.48,103.85 L118.50,104.35 L118.50,104.84 L118.48,105.33 L118.42,105.82 L118.33,106.31 L118.20,106.79 L118.02,107.27 L117.80,107.75 L117.53,108.21 L117.22,108.66 L116.85,109.10 L116.44,109.52 L115.99,109.93 L115.49,110.31Z"/><path d="M124.58,116.11 L124.99,115.19 L125.37,114.29 L125.72,113.42 L126.05,112.57 L126.36,111.73 L126.65,110.91 L126.91,110.11 L127.16,109.32 L127.39,108.54 L127.60,107.76 L127.78,106.99 L127.93,106.21 L128.05,105.44 L128.12,104.65 L127.77,104.58 L127.50,105.30 L127.21,106.00 L126.90,106.69 L126.55,107.35 L126.17,108.00 L125.74,108.61 L125.26,109.19 L124.74,109.74 L124.17,110.26 L123.56,110.74 L122.90,111.17 L122.20,111.56 L121.47,111.91 L120.69,112.22Z"/><path d="M124.84,129.48 L125.53,129.35 L126.21,129.28 L126.88,129.27 L127.53,129.32 L128.17,129.42 L128.79,129.58 L129.38,129.79 L129.95,130.05 L130.49,130.37 L131.01,130.72 L131.51,131.12 L131.98,131.55 L132.43,132.01 L132.88,132.50 L133.19,132.31 L132.90,131.69 L132.57,131.09 L132.21,130.51 L131.82,129.94 L131.41,129.39 L130.98,128.83 L130.52,128.28 L130.04,127.73 L129.54,127.16 L129.00,126.60 L128.44,126.02 L127.84,125.44 L127.21,124.85 L126.54,124.25Z"/><path d="M121.25,133.41 L121.82,133.46 L122.36,133.52 L122.87,133.59 L123.34,133.67 L123.79,133.77 L124.21,133.88 L124.59,133.99 L124.95,134.11 L125.29,134.24 L125.60,134.38 L125.89,134.51 L126.16,134.63 L126.42,134.75 L126.68,134.84 L126.93,134.58 L126.80,134.33 L126.66,134.08 L126.51,133.82 L126.35,133.54 L126.18,133.25 L126.02,132.93 L125.86,132.58 L125.70,132.21 L125.56,131.81 L125.41,131.38 L125.28,130.91 L125.15,130.41 L125.04,129.88 L124.93,129.32Z"/><path d="M114.16,135.79 L114.65,136.31 L115.14,136.80 L115.60,137.25 L116.06,137.67 L116.49,138.07 L116.92,138.44 L117.33,138.79 L117.73,139.12 L118.12,139.42 L118.51,139.71 L118.90,139.98 L119.29,140.22 L119.70,140.44 L120.11,140.62 L120.32,140.32 L120.04,139.99 L119.79,139.66 L119.55,139.32 L119.34,138.96 L119.16,138.59 L119.02,138.19 L118.92,137.77 L118.87,137.34 L118.85,136.89 L118.89,136.43 L118.97,135.95 L119.09,135.46 L119.27,134.97 L119.49,134.46Z"/><path d="M103.66,130.81 L103.47,131.54 L103.24,132.25 L102.96,132.92 L102.63,133.55 L102.26,134.15 L101.84,134.71 L101.39,135.22 L100.89,135.69 L100.36,136.12 L99.80,136.51 L99.22,136.86 L98.60,137.18 L97.97,137.47 L97.32,137.75 L97.40,138.10 L98.13,138.02 L98.84,137.89 L99.56,137.73 L100.26,137.54 L100.97,137.32 L101.68,137.08 L102.40,136.82 L103.13,136.54 L103.88,136.23 L104.64,135.91 L105.42,135.56 L106.21,135.18 L107.03,134.78 L107.87,134.34Z"/><path d="M101.01,122.46 L100.26,122.96 L99.53,123.44 L98.83,123.91 L98.16,124.36 L97.51,124.81 L96.88,125.24 L96.27,125.66 L95.68,126.07 L95.11,126.48 L94.56,126.89 L94.02,127.30 L93.51,127.72 L93.02,128.15 L92.57,128.61 L92.79,128.90 L93.35,128.62 L93.92,128.35 L94.49,128.10 L95.09,127.88 L95.70,127.68 L96.33,127.53 L96.98,127.41 L97.65,127.34 L98.34,127.31 L99.04,127.33 L99.76,127.39 L100.48,127.51 L101.22,127.67 L101.97,127.88Z"/></g>
<text x="132.6" y="114.3" font-size="7.3" text-anchor="start" font-weight="normal" font-style="normal" fill="#222" stroke="#222" stroke-width="0.18">I-A<tspan font-size="3.9" dy="-2.8">d</tspan><tspan dy="2.8">/I-E<tspan font-size="3.9" dy="-2.8">d</tspan><tspan dy="2.8"></tspan></tspan></text>
<line x1="158.9" y1="146.7" x2="165.9" y2="146.7" stroke="#111" stroke-width="1.1"/>
<line x1="162.4" y1="143.2" x2="162.4" y2="150.2" stroke="#111" stroke-width="1.1"/>
<rect x="193.2" y="144.89999999999998" width="4.0" height="5.4" fill="#fff" stroke="#444" stroke-width="0.6"/>
<path d="M177.7,143.2 H193.2 V152.0 H177.7 L178.89999999999998,147.6 Z" fill="#097B94" stroke="#333" stroke-width="0.6"/>
<line x1="178.7" y1="147.6" x2="193.2" y2="147.6" stroke="#22383d" stroke-width="1.1"/>
<line x1="186.535" y1="143.2" x2="186.535" y2="152.0" stroke="#22383d" stroke-width="0.6"/>
<circle cx="215.5" cy="148.0" r="18.4" fill="#FCDCC5" stroke="#333" stroke-width="0.8"/>
<text x="202.9" y="143.7" font-size="7.8" text-anchor="start" font-weight="normal" font-style="normal" fill="#1a1a1a" stroke="#1a1a1a" stroke-width="0.18">NFAT</text>
<path d="M205.0,157.8 V145.8 H221.8" fill="none" stroke="#222" stroke-width="0.7"/>
<path d="M224.1,145.8 L221.3,144.3 L221.3,147.3 Z" fill="#222"/>
<path d="M203.2,157.8 H227.5" fill="none" stroke="#222" stroke-width="0.7"/>
<rect x="207.7" y="147.8" width="19.5" height="10.0" fill="#fff" stroke="#333" stroke-width="0.7"/>
<text x="217.4" y="155.5" font-size="7.2" text-anchor="middle" font-weight="normal" font-style="normal" fill="#222" stroke="#222" stroke-width="0.18">β-gal</text>
<text x="215.2" y="174.4" font-size="7.4" text-anchor="middle" font-weight="normal" font-style="normal" fill="#262626" stroke="#262626" stroke-width="0.18">+ substrate</text>
<path d="M232.6,161.4 Q239.5,169.9 235.6,178.7" fill="none" stroke="#111" stroke-width="0.8"/>
<path d="M235.10,180.50 L237.63,177.86 L234.23,176.95Z" fill="#111"/>
<ellipse cx="215" cy="182.9" rx="31.5" ry="5.6" fill="url(#glow)"/>
<text x="216.8" y="186.3" font-size="7.5" text-anchor="middle" font-weight="normal" font-style="normal" fill="#222" stroke="#222" stroke-width="0.18">Fluorescence</text>
<text x="211.4" y="115.5" font-size="7.5" text-anchor="middle" font-weight="bold" font-style="normal" fill="#111" stroke="#111" stroke-width="0.1">NP-45- or HA-16-sp.</text>
<text x="210.5" y="124.8" font-size="7.5" text-anchor="middle" font-weight="bold" font-style="normal" fill="#111" stroke="#111" stroke-width="0.1">T cell hybridoma</text>
<circle cx="31.8" cy="154.3" r="6.4" fill="#fff" stroke="#E8A23A" stroke-width="1.6"/>
<path d="M27.50,155.70 q1.0,-2.4 2.0,-1.5 t2.0,-1.3 t2.0,-1.5 t2.0,-1.3" fill="none" stroke="#8575dc" stroke-width="0.75"/>
<path d="M28.40,158.00 q1.0,-2.4 2.0,-1.5 t2.0,-1.3 t2.0,-1.5 t2.0,-1.3" fill="none" stroke="#8575dc" stroke-width="0.75"/>
<circle cx="38.8" cy="162.1" r="6.4" fill="#fff" stroke="#E8A23A" stroke-width="1.6"/>
<path d="M34.50,163.50 q1.0,-2.4 2.0,-1.5 t2.0,-1.3 t2.0,-1.5 t2.0,-1.3" fill="none" stroke="#8575dc" stroke-width="0.75"/>
<path d="M35.40,165.80 q1.0,-2.4 2.0,-1.5 t2.0,-1.3 t2.0,-1.5 t2.0,-1.3" fill="none" stroke="#8575dc" stroke-width="0.75"/>
<text x="39.5" y="178.3" font-size="7.6" text-anchor="middle" font-weight="normal" font-style="normal" fill="#262626" stroke="#262626" stroke-width="0.18">NP or HA</text>
<text x="39.5" y="187.1" font-size="7.6" text-anchor="middle" font-weight="normal" font-style="normal" fill="#262626" stroke="#262626" stroke-width="0.18">mRNA-LNP</text>
<path d="M47,156 Q60,149 71.2,159" fill="none" stroke="#111" stroke-width="0.8"/>
<path d="M72.20,160.20 L71.81,156.57 L68.92,158.59Z" fill="#111"/>
<text x="79.7" y="165.7" font-size="7.6" text-anchor="middle" font-weight="bold" font-style="normal" fill="#111" stroke="#111" stroke-width="0.1">B6</text>
<text x="79.7" y="175.0" font-size="7.6" text-anchor="middle" font-weight="bold" font-style="normal" fill="#111" stroke="#111" stroke-width="0.1">BMDC</text>
<rect x="127.19999999999999" y="163.79999999999998" width="4.0" height="5.3999999999999995" fill="#fff" stroke="#444" stroke-width="0.6"/>
<path d="M131.2,162.2 H146.0 Q142.4,166.5 146.0,170.79999999999998 H131.2 Z" fill="#097B94" stroke="#333" stroke-width="0.6"/>
<line x1="131.2" y1="166.5" x2="142.5" y2="166.5" stroke="#1d3b42" stroke-width="1.3"/>
<circle cx="144.1" cy="166.5" r="2.0" fill="#7a52d0" stroke="#444" stroke-width="0.7"/>
<g fill="#7a6a60" stroke="#7a6a60" stroke-width="1.3" stroke-linejoin="round"><path d="M127.70,167.40 A14.0,14.0 0 1 1 99.70,167.40 A14.0,14.0 0 1 1 127.70,167.40Z"/><path d="M106.62,156.74 L105.94,156.55 L105.30,156.34 L104.68,156.10 L104.11,155.83 L103.57,155.53 L103.06,155.21 L102.59,154.86 L102.16,154.49 L101.76,154.11 L101.40,153.71 L101.06,153.29 L100.75,152.87 L100.45,152.44 L100.16,152.02 L99.83,152.15 L99.93,152.67 L100.07,153.20 L100.24,153.72 L100.42,154.26 L100.62,154.81 L100.83,155.37 L101.05,155.96 L101.28,156.56 L101.51,157.18 L101.75,157.83 L102.00,158.50 L102.26,159.21 L102.52,159.94 L102.80,160.69Z"/><path d="M110.26,155.07 L109.77,154.86 L109.31,154.63 L108.90,154.36 L108.53,154.08 L108.20,153.77 L107.91,153.44 L107.67,153.09 L107.47,152.73 L107.32,152.35 L107.20,151.97 L107.13,151.57 L107.08,151.17 L107.06,150.77 L107.05,150.35 L106.70,150.26 L106.50,150.65 L106.34,151.07 L106.20,151.50 L106.08,151.95 L105.98,152.41 L105.89,152.89 L105.80,153.38 L105.72,153.91 L105.65,154.45 L105.58,155.03 L105.52,155.64 L105.47,156.27 L105.43,156.95 L105.40,157.65Z"/><path d="M120.56,156.59 L120.46,155.82 L120.36,155.08 L120.25,154.37 L120.14,153.69 L120.03,153.04 L119.92,152.42 L119.81,151.82 L119.69,151.25 L119.57,150.69 L119.44,150.15 L119.30,149.63 L119.14,149.12 L118.95,148.63 L118.73,148.16 L118.38,148.25 L118.40,148.75 L118.40,149.24 L118.38,149.73 L118.32,150.22 L118.23,150.71 L118.10,151.19 L117.92,151.67 L117.70,152.15 L117.43,152.61 L117.12,153.06 L116.75,153.50 L116.34,153.92 L115.89,154.33 L115.39,154.71Z"/><path d="M124.48,160.51 L124.89,159.59 L125.27,158.69 L125.62,157.82 L125.95,156.97 L126.26,156.13 L126.55,155.31 L126.81,154.51 L127.06,153.72 L127.29,152.94 L127.50,152.16 L127.68,151.39 L127.83,150.61 L127.95,149.84 L128.02,149.05 L127.67,148.98 L127.40,149.70 L127.11,150.40 L126.80,151.09 L126.45,151.75 L126.07,152.40 L125.64,153.01 L125.16,153.59 L124.64,154.14 L124.07,154.66 L123.46,155.14 L122.80,155.57 L122.10,155.96 L121.37,156.31 L120.59,156.62Z"/><path d="M124.74,173.88 L125.43,173.75 L126.11,173.68 L126.78,173.67 L127.43,173.72 L128.07,173.82 L128.69,173.98 L129.28,174.19 L129.85,174.45 L130.39,174.77 L130.91,175.12 L131.41,175.52 L131.88,175.95 L132.33,176.41 L132.78,176.90 L133.09,176.71 L132.80,176.09 L132.47,175.49 L132.11,174.91 L131.72,174.34 L131.31,173.79 L130.88,173.23 L130.42,172.68 L129.94,172.13 L129.44,171.56 L128.90,171.00 L128.34,170.42 L127.74,169.84 L127.11,169.25 L126.44,168.65Z"/><path d="M121.15,177.81 L121.72,177.86 L122.26,177.92 L122.77,177.99 L123.24,178.07 L123.69,178.17 L124.11,178.28 L124.49,178.39 L124.85,178.51 L125.19,178.64 L125.50,178.78 L125.79,178.91 L126.06,179.03 L126.32,179.15 L126.58,179.24 L126.83,178.98 L126.70,178.73 L126.56,178.48 L126.41,178.22 L126.25,177.94 L126.08,177.65 L125.92,177.33 L125.76,176.98 L125.60,176.61 L125.46,176.21 L125.31,175.78 L125.18,175.31 L125.05,174.81 L124.94,174.28 L124.83,173.72Z"/><path d="M114.06,180.19 L114.55,180.71 L115.04,181.20 L115.50,181.65 L115.96,182.07 L116.39,182.47 L116.82,182.84 L117.23,183.19 L117.63,183.52 L118.02,183.82 L118.41,184.11 L118.80,184.38 L119.19,184.62 L119.60,184.84 L120.01,185.02 L120.22,184.72 L119.94,184.39 L119.69,184.06 L119.45,183.72 L119.24,183.36 L119.06,182.99 L118.92,182.59 L118.82,182.17 L118.77,181.74 L118.75,181.29 L118.79,180.83 L118.87,180.35 L118.99,179.86 L119.17,179.37 L119.39,178.86Z"/><path d="M103.56,175.21 L103.37,175.94 L103.14,176.65 L102.86,177.32 L102.53,177.95 L102.16,178.55 L101.74,179.11 L101.29,179.62 L100.79,180.09 L100.26,180.52 L99.70,180.91 L99.12,181.26 L98.50,181.58 L97.87,181.87 L97.22,182.15 L97.30,182.50 L98.03,182.42 L98.74,182.29 L99.46,182.13 L100.16,181.94 L100.87,181.72 L101.58,181.48 L102.30,181.22 L103.03,180.94 L103.78,180.63 L104.54,180.31 L105.32,179.96 L106.11,179.58 L106.93,179.18 L107.77,178.74Z"/><path d="M100.91,166.86 L100.16,167.36 L99.43,167.84 L98.73,168.31 L98.06,168.76 L97.41,169.21 L96.78,169.64 L96.17,170.06 L95.58,170.47 L95.01,170.88 L94.46,171.29 L93.92,171.70 L93.41,172.12 L92.92,172.55 L92.47,173.01 L92.69,173.30 L93.25,173.02 L93.82,172.75 L94.39,172.50 L94.99,172.28 L95.60,172.08 L96.23,171.93 L96.88,171.81 L97.55,171.74 L98.24,171.71 L98.94,171.73 L99.66,171.79 L100.38,171.91 L101.12,172.07 L101.87,172.28Z"/></g><g fill="#FCDCC5"><path d="M127.70,167.40 A14.0,14.0 0 1 1 99.70,167.40 A14.0,14.0 0 1 1 127.70,167.40Z"/><path d="M106.62,156.74 L105.94,156.55 L105.30,156.34 L104.68,156.10 L104.11,155.83 L103.57,155.53 L103.06,155.21 L102.59,154.86 L102.16,154.49 L101.76,154.11 L101.40,153.71 L101.06,153.29 L100.75,152.87 L100.45,152.44 L100.16,152.02 L99.83,152.15 L99.93,152.67 L100.07,153.20 L100.24,153.72 L100.42,154.26 L100.62,154.81 L100.83,155.37 L101.05,155.96 L101.28,156.56 L101.51,157.18 L101.75,157.83 L102.00,158.50 L102.26,159.21 L102.52,159.94 L102.80,160.69Z"/><path d="M110.26,155.07 L109.77,154.86 L109.31,154.63 L108.90,154.36 L108.53,154.08 L108.20,153.77 L107.91,153.44 L107.67,153.09 L107.47,152.73 L107.32,152.35 L107.20,151.97 L107.13,151.57 L107.08,151.17 L107.06,150.77 L107.05,150.35 L106.70,150.26 L106.50,150.65 L106.34,151.07 L106.20,151.50 L106.08,151.95 L105.98,152.41 L105.89,152.89 L105.80,153.38 L105.72,153.91 L105.65,154.45 L105.58,155.03 L105.52,155.64 L105.47,156.27 L105.43,156.95 L105.40,157.65Z"/><path d="M120.56,156.59 L120.46,155.82 L120.36,155.08 L120.25,154.37 L120.14,153.69 L120.03,153.04 L119.92,152.42 L119.81,151.82 L119.69,151.25 L119.57,150.69 L119.44,150.15 L119.30,149.63 L119.14,149.12 L118.95,148.63 L118.73,148.16 L118.38,148.25 L118.40,148.75 L118.40,149.24 L118.38,149.73 L118.32,150.22 L118.23,150.71 L118.10,151.19 L117.92,151.67 L117.70,152.15 L117.43,152.61 L117.12,153.06 L116.75,153.50 L116.34,153.92 L115.89,154.33 L115.39,154.71Z"/><path d="M124.48,160.51 L124.89,159.59 L125.27,158.69 L125.62,157.82 L125.95,156.97 L126.26,156.13 L126.55,155.31 L126.81,154.51 L127.06,153.72 L127.29,152.94 L127.50,152.16 L127.68,151.39 L127.83,150.61 L127.95,149.84 L128.02,149.05 L127.67,148.98 L127.40,149.70 L127.11,150.40 L126.80,151.09 L126.45,151.75 L126.07,152.40 L125.64,153.01 L125.16,153.59 L124.64,154.14 L124.07,154.66 L123.46,155.14 L122.80,155.57 L122.10,155.96 L121.37,156.31 L120.59,156.62Z"/><path d="M124.74,173.88 L125.43,173.75 L126.11,173.68 L126.78,173.67 L127.43,173.72 L128.07,173.82 L128.69,173.98 L129.28,174.19 L129.85,174.45 L130.39,174.77 L130.91,175.12 L131.41,175.52 L131.88,175.95 L132.33,176.41 L132.78,176.90 L133.09,176.71 L132.80,176.09 L132.47,175.49 L132.11,174.91 L131.72,174.34 L131.31,173.79 L130.88,173.23 L130.42,172.68 L129.94,172.13 L129.44,171.56 L128.90,171.00 L128.34,170.42 L127.74,169.84 L127.11,169.25 L126.44,168.65Z"/><path d="M121.15,177.81 L121.72,177.86 L122.26,177.92 L122.77,177.99 L123.24,178.07 L123.69,178.17 L124.11,178.28 L124.49,178.39 L124.85,178.51 L125.19,178.64 L125.50,178.78 L125.79,178.91 L126.06,179.03 L126.32,179.15 L126.58,179.24 L126.83,178.98 L126.70,178.73 L126.56,178.48 L126.41,178.22 L126.25,177.94 L126.08,177.65 L125.92,177.33 L125.76,176.98 L125.60,176.61 L125.46,176.21 L125.31,175.78 L125.18,175.31 L125.05,174.81 L124.94,174.28 L124.83,173.72Z"/><path d="M114.06,180.19 L114.55,180.71 L115.04,181.20 L115.50,181.65 L115.96,182.07 L116.39,182.47 L116.82,182.84 L117.23,183.19 L117.63,183.52 L118.02,183.82 L118.41,184.11 L118.80,184.38 L119.19,184.62 L119.60,184.84 L120.01,185.02 L120.22,184.72 L119.94,184.39 L119.69,184.06 L119.45,183.72 L119.24,183.36 L119.06,182.99 L118.92,182.59 L118.82,182.17 L118.77,181.74 L118.75,181.29 L118.79,180.83 L118.87,180.35 L118.99,179.86 L119.17,179.37 L119.39,178.86Z"/><path d="M103.56,175.21 L103.37,175.94 L103.14,176.65 L102.86,177.32 L102.53,177.95 L102.16,178.55 L101.74,179.11 L101.29,179.62 L100.79,180.09 L100.26,180.52 L99.70,180.91 L99.12,181.26 L98.50,181.58 L97.87,181.87 L97.22,182.15 L97.30,182.50 L98.03,182.42 L98.74,182.29 L99.46,182.13 L100.16,181.94 L100.87,181.72 L101.58,181.48 L102.30,181.22 L103.03,180.94 L103.78,180.63 L104.54,180.31 L105.32,179.96 L106.11,179.58 L106.93,179.18 L107.77,178.74Z"/><path d="M100.91,166.86 L100.16,167.36 L99.43,167.84 L98.73,168.31 L98.06,168.76 L97.41,169.21 L96.78,169.64 L96.17,170.06 L95.58,170.47 L95.01,170.88 L94.46,171.29 L93.92,171.70 L93.41,172.12 L92.92,172.55 L92.47,173.01 L92.69,173.30 L93.25,173.02 L93.82,172.75 L94.39,172.50 L94.99,172.28 L95.60,172.08 L96.23,171.93 L96.88,171.81 L97.55,171.74 L98.24,171.71 L98.94,171.73 L99.66,171.79 L100.38,171.91 L101.12,172.07 L101.87,172.28Z"/></g>
<circle cx="118.9" cy="165.2" r="1.85" fill="#6a45b8" stroke="#3a2470" stroke-width="0.6"/>
<circle cx="109" cy="170.9" r="1.85" fill="#6a45b8" stroke="#3a2470" stroke-width="0.6"/>
<circle cx="118.6" cy="171.9" r="1.85" fill="#6a45b8" stroke="#3a2470" stroke-width="0.6"/>
<circle cx="113" cy="175.9" r="1.85" fill="#6a45b8" stroke="#3a2470" stroke-width="0.6"/>
<text x="132.7" y="159.3" font-size="7.3" text-anchor="start" font-weight="normal" font-style="normal" fill="#222" stroke="#222" stroke-width="0.18">I-A<tspan font-size="3.9" dy="-2.8">b</tspan><tspan dy="2.8"></tspan></text>
<text x="-0.8" y="216.0" font-size="13" text-anchor="start" font-weight="bold" font-style="normal" fill="#111" stroke="#111" stroke-width="0.45">e</text>
<rect x="13.7" y="213.4" width="234.3" height="105.4" fill="none" stroke="#9d9ba3" stroke-width="1.4"/>
<circle cx="44.9" cy="229.3" r="6.4" fill="#fff" stroke="#E8A23A" stroke-width="1.6"/>
<path d="M40.60,230.70 q1.0,-2.4 2.0,-1.5 t2.0,-1.3 t2.0,-1.5 t2.0,-1.3" fill="none" stroke="#8575dc" stroke-width="0.75"/>
<path d="M41.50,233.00 q1.0,-2.4 2.0,-1.5 t2.0,-1.3 t2.0,-1.5 t2.0,-1.3" fill="none" stroke="#8575dc" stroke-width="0.75"/>
<circle cx="52.3" cy="237.8" r="6.4" fill="#fff" stroke="#E8A23A" stroke-width="1.6"/>
<path d="M48.00,239.20 q1.0,-2.4 2.0,-1.5 t2.0,-1.3 t2.0,-1.5 t2.0,-1.3" fill="none" stroke="#8575dc" stroke-width="0.75"/>
<path d="M48.90,241.50 q1.0,-2.4 2.0,-1.5 t2.0,-1.3 t2.0,-1.5 t2.0,-1.3" fill="none" stroke="#8575dc" stroke-width="0.75"/>
<text x="38.5" y="248.4" font-size="7.6" text-anchor="middle" font-weight="normal" font-style="normal" fill="#262626" stroke="#262626" stroke-width="0.18">HA</text>
<text x="38.6" y="255.1" font-size="7.6" text-anchor="middle" font-weight="normal" font-style="normal" fill="#262626" stroke="#262626" stroke-width="0.18">mRNA-LNP</text>
<g transform="translate(59.7,263.2) rotate(-52)" fill="none" stroke="#333" stroke-width="0.7"><line x1="0" y1="0" x2="5" y2="0"/><path d="M5,0 Q5,-2.6 7.5,-2.6 H25.5 V2.6 H7.5 Q5,2.6 5,0 Z" fill="#fff"/><line x1="25.8" y1="-3.4" x2="25.8" y2="3.4" stroke-width="1.3"/><line x1="25.5" y1="0" x2="27.8" y2="0" stroke-width="0.8"/><line x1="28" y1="-2.6" x2="28" y2="2.6" stroke-width="1.0"/><line x1="9.5" y1="-2.6" x2="9.5" y2="-0.8" stroke-width="0.5"/><line x1="13" y1="-2.6" x2="13" y2="-0.8" stroke-width="0.5"/><line x1="16.5" y1="-2.6" x2="16.5" y2="-0.8" stroke-width="0.5"/><line x1="20" y1="-2.6" x2="20" y2="-0.8" stroke-width="0.5"/></g>
<path d="M30.3,283.3 L41.5,275.5 C45,273 50,270 55,268.3 C62,265.8 68,265.4 71.5,267 C75,269 75.2,273.5 73.6,277 C72.2,280 70,282 67.8,283.3 Z" fill="#9b9b9b" stroke="#444" stroke-width="0.6"/>
<path d="M41.4,276.3 C40.8,272 43.5,270.2 46,270.4 C49,270.6 51,273 50.4,276 C49.8,278.6 47.6,280 45,280.4" fill="#9b9b9b" stroke="#444" stroke-width="0.6"/>
<path d="M67.8,283.3 C74,283.3 80,284.5 77.5,287.5 C75,290 62,288.5 62.5,291 C63,293.5 77,292 76.5,294.5 C76,296.5 70,296.8 67.5,296.5" fill="none" stroke="#444" stroke-width="0.6"/>
<path d="M79,270.7 C90,270 100,265 106.2,256" fill="none" stroke="#111" stroke-width="0.8"/>
<path d="M107.20,254.20 L104.08,256.09 L107.12,257.85Z" fill="#111"/>
<path d="M79,272 C90,272.5 100,277.5 106.2,286.5" fill="none" stroke="#111" stroke-width="0.8"/>
<path d="M107.20,288.30 L107.12,284.65 L104.08,286.41Z" fill="#111"/>
<text x="95.2" y="225.2" font-size="7.6" text-anchor="middle" font-weight="bold" font-style="normal" fill="#111" stroke="#111" stroke-width="0.1">HA<tspan font-size="3.9" dy="-2.8">+</tspan><tspan dy="2.8"></tspan></text>
<text x="95.6" y="234.0" font-size="7.4" text-anchor="middle" font-weight="normal" font-style="normal" fill="#262626" stroke="#262626" stroke-width="0.18">MHC II<tspan font-size="3.9" dy="-2.8">+</tspan><tspan dy="2.8"></tspan></text>
<rect x="138.3" y="235.5" width="4.0" height="5.3999999999999995" fill="#fff" stroke="#444" stroke-width="0.6"/>
<path d="M142.3,233.9 H157.10000000000002 Q153.50000000000003,238.20000000000002 157.10000000000002,242.5 H142.3 Z" fill="#097B94" stroke="#333" stroke-width="0.6"/>
<line x1="142.3" y1="238.20000000000002" x2="153.60000000000002" y2="238.20000000000002" stroke="#1d3b42" stroke-width="1.3"/>
<circle cx="155.20000000000002" cy="238.20000000000002" r="2.0" fill="#7a52d0" stroke="#444" stroke-width="0.7"/>
<g fill="#7a6a60" stroke="#7a6a60" stroke-width="1.3" stroke-linejoin="round"><path d="M140.10,240.20 A13.5,13.5 0 1 1 113.10,240.20 A13.5,13.5 0 1 1 140.10,240.20Z"/><path d="M119.88,229.89 L119.17,229.68 L118.50,229.44 L117.86,229.17 L117.26,228.87 L116.69,228.55 L116.16,228.20 L115.67,227.83 L115.21,227.43 L114.78,227.02 L114.39,226.60 L114.03,226.16 L113.69,225.71 L113.37,225.26 L113.06,224.81 L112.73,224.95 L112.86,225.50 L113.03,226.05 L113.22,226.61 L113.43,227.17 L113.66,227.74 L113.89,228.33 L114.14,228.94 L114.39,229.56 L114.65,230.21 L114.91,230.88 L115.19,231.58 L115.47,232.31 L115.76,233.06 L116.06,233.84Z"/><path d="M123.39,228.31 L122.88,228.07 L122.41,227.79 L121.98,227.50 L121.59,227.17 L121.24,226.83 L120.94,226.47 L120.68,226.09 L120.47,225.69 L120.30,225.29 L120.17,224.87 L120.08,224.45 L120.02,224.02 L119.98,223.58 L119.95,223.14 L119.60,223.07 L119.42,223.50 L119.27,223.95 L119.15,224.42 L119.05,224.89 L118.97,225.39 L118.89,225.90 L118.82,226.43 L118.76,226.98 L118.71,227.56 L118.66,228.16 L118.61,228.80 L118.58,229.46 L118.55,230.16 L118.54,230.90Z"/><path d="M133.29,229.86 L133.20,229.06 L133.11,228.29 L133.02,227.55 L132.92,226.84 L132.82,226.16 L132.72,225.50 L132.62,224.87 L132.52,224.26 L132.41,223.67 L132.29,223.10 L132.16,222.54 L132.02,222.00 L131.84,221.47 L131.63,220.96 L131.28,221.04 L131.28,221.57 L131.27,222.09 L131.24,222.62 L131.17,223.14 L131.07,223.66 L130.93,224.18 L130.74,224.69 L130.50,225.20 L130.22,225.70 L129.90,226.19 L129.52,226.66 L129.10,227.12 L128.63,227.56 L128.12,227.98Z"/><path d="M137.03,233.66 L137.46,232.72 L137.86,231.80 L138.24,230.90 L138.59,230.03 L138.93,229.17 L139.24,228.33 L139.53,227.50 L139.81,226.68 L140.06,225.88 L140.29,225.07 L140.50,224.27 L140.68,223.47 L140.82,222.67 L140.92,221.85 L140.57,221.78 L140.28,222.52 L139.97,223.25 L139.63,223.96 L139.26,224.65 L138.85,225.31 L138.39,225.95 L137.89,226.56 L137.34,227.14 L136.75,227.68 L136.11,228.18 L135.43,228.64 L134.71,229.06 L133.94,229.44 L133.14,229.77Z"/><path d="M137.16,246.52 L137.89,246.41 L138.61,246.36 L139.32,246.36 L140.00,246.42 L140.68,246.53 L141.33,246.70 L141.96,246.92 L142.56,247.20 L143.14,247.52 L143.69,247.89 L144.21,248.30 L144.72,248.74 L145.21,249.21 L145.69,249.71 L145.98,249.50 L145.66,248.87 L145.29,248.26 L144.90,247.67 L144.47,247.09 L144.03,246.52 L143.56,245.96 L143.07,245.39 L142.56,244.83 L142.02,244.26 L141.45,243.68 L140.86,243.10 L140.23,242.50 L139.56,241.90 L138.86,241.29Z"/><path d="M133.68,250.27 L134.28,250.35 L134.84,250.43 L135.37,250.53 L135.88,250.64 L136.35,250.75 L136.79,250.88 L137.21,251.02 L137.59,251.17 L137.95,251.32 L138.29,251.48 L138.61,251.64 L138.91,251.79 L139.20,251.92 L139.48,252.04 L139.73,251.78 L139.58,251.50 L139.41,251.23 L139.23,250.95 L139.04,250.65 L138.85,250.33 L138.66,249.99 L138.47,249.62 L138.29,249.22 L138.12,248.79 L137.95,248.34 L137.79,247.85 L137.64,247.33 L137.49,246.77 L137.36,246.19Z"/><path d="M126.83,252.51 L127.34,253.05 L127.83,253.57 L128.30,254.05 L128.76,254.51 L129.21,254.94 L129.64,255.35 L130.05,255.73 L130.46,256.09 L130.86,256.43 L131.26,256.76 L131.66,257.06 L132.06,257.34 L132.48,257.60 L132.91,257.81 L133.13,257.52 L132.85,257.16 L132.58,256.80 L132.34,256.43 L132.12,256.04 L131.93,255.63 L131.79,255.20 L131.68,254.75 L131.61,254.28 L131.59,253.80 L131.61,253.30 L131.68,252.78 L131.79,252.26 L131.96,251.72 L132.17,251.18Z"/><path d="M116.78,247.62 L116.57,248.39 L116.31,249.13 L116.01,249.83 L115.65,250.49 L115.26,251.11 L114.82,251.70 L114.34,252.24 L113.82,252.74 L113.27,253.19 L112.69,253.61 L112.08,253.99 L111.44,254.33 L110.79,254.65 L110.11,254.95 L110.21,255.30 L110.96,255.19 L111.70,255.03 L112.43,254.84 L113.17,254.62 L113.90,254.38 L114.63,254.11 L115.38,253.82 L116.13,253.51 L116.90,253.18 L117.68,252.83 L118.48,252.45 L119.29,252.05 L120.13,251.62 L120.99,251.16Z"/><path d="M114.30,239.58 L113.52,240.08 L112.76,240.56 L112.03,241.04 L111.32,241.50 L110.63,241.95 L109.97,242.38 L109.33,242.81 L108.70,243.23 L108.10,243.65 L107.51,244.06 L106.94,244.48 L106.39,244.90 L105.87,245.34 L105.37,245.81 L105.58,246.10 L106.18,245.82 L106.78,245.54 L107.39,245.29 L108.02,245.06 L108.67,244.86 L109.34,244.69 L110.02,244.57 L110.73,244.49 L111.45,244.46 L112.18,244.47 L112.94,244.53 L113.70,244.63 L114.48,244.79 L115.26,244.99Z"/></g><g fill="#FCDCC5"><path d="M140.10,240.20 A13.5,13.5 0 1 1 113.10,240.20 A13.5,13.5 0 1 1 140.10,240.20Z"/><path d="M119.88,229.89 L119.17,229.68 L118.50,229.44 L117.86,229.17 L117.26,228.87 L116.69,228.55 L116.16,228.20 L115.67,227.83 L115.21,227.43 L114.78,227.02 L114.39,226.60 L114.03,226.16 L113.69,225.71 L113.37,225.26 L113.06,224.81 L112.73,224.95 L112.86,225.50 L113.03,226.05 L113.22,226.61 L113.43,227.17 L113.66,227.74 L113.89,228.33 L114.14,228.94 L114.39,229.56 L114.65,230.21 L114.91,230.88 L115.19,231.58 L115.47,232.31 L115.76,233.06 L116.06,233.84Z"/><path d="M123.39,228.31 L122.88,228.07 L122.41,227.79 L121.98,227.50 L121.59,227.17 L121.24,226.83 L120.94,226.47 L120.68,226.09 L120.47,225.69 L120.30,225.29 L120.17,224.87 L120.08,224.45 L120.02,224.02 L119.98,223.58 L119.95,223.14 L119.60,223.07 L119.42,223.50 L119.27,223.95 L119.15,224.42 L119.05,224.89 L118.97,225.39 L118.89,225.90 L118.82,226.43 L118.76,226.98 L118.71,227.56 L118.66,228.16 L118.61,228.80 L118.58,229.46 L118.55,230.16 L118.54,230.90Z"/><path d="M133.29,229.86 L133.20,229.06 L133.11,228.29 L133.02,227.55 L132.92,226.84 L132.82,226.16 L132.72,225.50 L132.62,224.87 L132.52,224.26 L132.41,223.67 L132.29,223.10 L132.16,222.54 L132.02,222.00 L131.84,221.47 L131.63,220.96 L131.28,221.04 L131.28,221.57 L131.27,222.09 L131.24,222.62 L131.17,223.14 L131.07,223.66 L130.93,224.18 L130.74,224.69 L130.50,225.20 L130.22,225.70 L129.90,226.19 L129.52,226.66 L129.10,227.12 L128.63,227.56 L128.12,227.98Z"/><path d="M137.03,233.66 L137.46,232.72 L137.86,231.80 L138.24,230.90 L138.59,230.03 L138.93,229.17 L139.24,228.33 L139.53,227.50 L139.81,226.68 L140.06,225.88 L140.29,225.07 L140.50,224.27 L140.68,223.47 L140.82,222.67 L140.92,221.85 L140.57,221.78 L140.28,222.52 L139.97,223.25 L139.63,223.96 L139.26,224.65 L138.85,225.31 L138.39,225.95 L137.89,226.56 L137.34,227.14 L136.75,227.68 L136.11,228.18 L135.43,228.64 L134.71,229.06 L133.94,229.44 L133.14,229.77Z"/><path d="M137.16,246.52 L137.89,246.41 L138.61,246.36 L139.32,246.36 L140.00,246.42 L140.68,246.53 L141.33,246.70 L141.96,246.92 L142.56,247.20 L143.14,247.52 L143.69,247.89 L144.21,248.30 L144.72,248.74 L145.21,249.21 L145.69,249.71 L145.98,249.50 L145.66,248.87 L145.29,248.26 L144.90,247.67 L144.47,247.09 L144.03,246.52 L143.56,245.96 L143.07,245.39 L142.56,244.83 L142.02,244.26 L141.45,243.68 L140.86,243.10 L140.23,242.50 L139.56,241.90 L138.86,241.29Z"/><path d="M133.68,250.27 L134.28,250.35 L134.84,250.43 L135.37,250.53 L135.88,250.64 L136.35,250.75 L136.79,250.88 L137.21,251.02 L137.59,251.17 L137.95,251.32 L138.29,251.48 L138.61,251.64 L138.91,251.79 L139.20,251.92 L139.48,252.04 L139.73,251.78 L139.58,251.50 L139.41,251.23 L139.23,250.95 L139.04,250.65 L138.85,250.33 L138.66,249.99 L138.47,249.62 L138.29,249.22 L138.12,248.79 L137.95,248.34 L137.79,247.85 L137.64,247.33 L137.49,246.77 L137.36,246.19Z"/><path d="M126.83,252.51 L127.34,253.05 L127.83,253.57 L128.30,254.05 L128.76,254.51 L129.21,254.94 L129.64,255.35 L130.05,255.73 L130.46,256.09 L130.86,256.43 L131.26,256.76 L131.66,257.06 L132.06,257.34 L132.48,257.60 L132.91,257.81 L133.13,257.52 L132.85,257.16 L132.58,256.80 L132.34,256.43 L132.12,256.04 L131.93,255.63 L131.79,255.20 L131.68,254.75 L131.61,254.28 L131.59,253.80 L131.61,253.30 L131.68,252.78 L131.79,252.26 L131.96,251.72 L132.17,251.18Z"/><path d="M116.78,247.62 L116.57,248.39 L116.31,249.13 L116.01,249.83 L115.65,250.49 L115.26,251.11 L114.82,251.70 L114.34,252.24 L113.82,252.74 L113.27,253.19 L112.69,253.61 L112.08,253.99 L111.44,254.33 L110.79,254.65 L110.11,254.95 L110.21,255.30 L110.96,255.19 L111.70,255.03 L112.43,254.84 L113.17,254.62 L113.90,254.38 L114.63,254.11 L115.38,253.82 L116.13,253.51 L116.90,253.18 L117.68,252.83 L118.48,252.45 L119.29,252.05 L120.13,251.62 L120.99,251.16Z"/><path d="M114.30,239.58 L113.52,240.08 L112.76,240.56 L112.03,241.04 L111.32,241.50 L110.63,241.95 L109.97,242.38 L109.33,242.81 L108.70,243.23 L108.10,243.65 L107.51,244.06 L106.94,244.48 L106.39,244.90 L105.87,245.34 L105.37,245.81 L105.58,246.10 L106.18,245.82 L106.78,245.54 L107.39,245.29 L108.02,245.06 L108.67,244.86 L109.34,244.69 L110.02,244.57 L110.73,244.49 L111.45,244.46 L112.18,244.47 L112.94,244.53 L113.70,244.63 L114.48,244.79 L115.26,244.99Z"/></g>
<path d="M117.80,235.60 q1.1,-2.0 2.2,-1.0 t2.2,-1.1 t2.2,-1.0 t2.2,-1.2" fill="none" stroke="#7466d8" stroke-width="0.8"/>
<path d="M119.80,238.60 q1.1,-2.0 2.2,-1.0 t2.2,-1.1 t2.2,-1.0 t2.2,-1.2" fill="none" stroke="#7466d8" stroke-width="0.8"/>
<circle cx="127.9" cy="239.6" r="1.85" fill="#6a45b8" stroke="#3a2470" stroke-width="0.6"/>
<circle cx="134.8" cy="238.3" r="1.85" fill="#6a45b8" stroke="#3a2470" stroke-width="0.6"/>
<circle cx="120.7" cy="244.8" r="1.85" fill="#6a45b8" stroke="#3a2470" stroke-width="0.6"/>
<circle cx="129.8" cy="246.8" r="1.85" fill="#6a45b8" stroke="#3a2470" stroke-width="0.6"/>
<circle cx="123.3" cy="225.2" r="1.85" fill="#6a45b8" stroke="#3a2470" stroke-width="0.6"/>
<circle cx="134" cy="226.9" r="1.85" fill="#6a45b8" stroke="#3a2470" stroke-width="0.6"/>
<circle cx="112.2" cy="233.4" r="1.85" fill="#6a45b8" stroke="#3a2470" stroke-width="0.6"/>
<circle cx="110.2" cy="238.7" r="1.85" fill="#6a45b8" stroke="#3a2470" stroke-width="0.6"/>
<circle cx="113.5" cy="249.4" r="1.85" fill="#6a45b8" stroke="#3a2470" stroke-width="0.6"/>
<circle cx="127" cy="255.9" r="1.85" fill="#6a45b8" stroke="#3a2470" stroke-width="0.6"/>
<circle cx="134.8" cy="251.7" r="1.85" fill="#6a45b8" stroke="#3a2470" stroke-width="0.6"/>
<line x1="162.95" y1="238.1" x2="170.25" y2="238.1" stroke="#111" stroke-width="1.1"/>
<line x1="166.6" y1="234.45" x2="166.6" y2="241.75" stroke="#111" stroke-width="1.1"/>
<rect x="191.5" y="235.6" width="4.0" height="5.4" fill="#fff" stroke="#444" stroke-width="0.6"/>
<path d="M176.0,233.9 H191.5 V242.70000000000002 H176.0 L177.2,238.3 Z" fill="#097B94" stroke="#333" stroke-width="0.6"/>
<line x1="177.0" y1="238.3" x2="191.5" y2="238.3" stroke="#22383d" stroke-width="1.1"/>
<line x1="184.835" y1="233.9" x2="184.835" y2="242.70000000000002" stroke="#22383d" stroke-width="0.6"/>
<circle cx="214.4" cy="237.3" r="18.4" fill="#FCDCC5" stroke="#333" stroke-width="0.8"/>
<text x="201.8" y="233.0" font-size="7.8" text-anchor="start" font-weight="normal" font-style="normal" fill="#1a1a1a" stroke="#1a1a1a" stroke-width="0.18">NFAT</text>
<path d="M203.9,247.10000000000002 V235.10000000000002 H220.70000000000002" fill="none" stroke="#222" stroke-width="0.7"/>
<path d="M223.0,235.10000000000002 L220.20000000000002,233.60000000000002 L220.20000000000002,236.60000000000002 Z" fill="#222"/>
<path d="M202.1,247.10000000000002 H226.4" fill="none" stroke="#222" stroke-width="0.7"/>
<rect x="206.6" y="237.10000000000002" width="19.5" height="10.0" fill="#fff" stroke="#333" stroke-width="0.7"/>
<text x="216.3" y="244.8" font-size="7.2" text-anchor="middle" font-weight="normal" font-style="normal" fill="#222" stroke="#222" stroke-width="0.18">β-gal</text>
<text x="214.6" y="264.2" font-size="7.4" text-anchor="middle" font-weight="normal" font-style="normal" fill="#262626" stroke="#262626" stroke-width="0.18">HA-16-specific</text>
<text x="214.6" y="272.9" font-size="7.4" text-anchor="middle" font-weight="normal" font-style="normal" fill="#262626" stroke="#262626" stroke-width="0.18">T cell hybridoma</text>
<text x="95.4" y="302.0" font-size="7.6" text-anchor="middle" font-weight="bold" font-style="normal" fill="#111" stroke="#111" stroke-width="0.1">HA<tspan font-size="3.9" dy="-2.8">-</tspan><tspan dy="2.8"></tspan></text>
<text x="96.5" y="310.9" font-size="7.4" text-anchor="middle" font-weight="normal" font-style="normal" fill="#262626" stroke="#262626" stroke-width="0.18">MHC II<tspan font-size="3.9" dy="-2.8">+</tspan><tspan dy="2.8"></tspan></text>
<rect x="138.3" y="292.0" width="4.0" height="5.3999999999999995" fill="#fff" stroke="#444" stroke-width="0.6"/>
<path d="M142.3,290.4 H157.10000000000002 Q153.50000000000003,294.7 157.10000000000002,299.0 H142.3 Z" fill="#097B94" stroke="#333" stroke-width="0.6"/>
<line x1="142.3" y1="294.7" x2="153.60000000000002" y2="294.7" stroke="#1d3b42" stroke-width="1.3"/>
<circle cx="155.20000000000002" cy="294.7" r="2.0" fill="#7a52d0" stroke="#444" stroke-width="0.7"/>
<g fill="#7a6a60" stroke="#7a6a60" stroke-width="1.3" stroke-linejoin="round"><path d="M139.80,296.10 A13.5,13.5 0 1 1 112.80,296.10 A13.5,13.5 0 1 1 139.80,296.10Z"/><path d="M119.58,285.79 L118.87,285.58 L118.20,285.34 L117.56,285.07 L116.96,284.77 L116.39,284.45 L115.86,284.10 L115.37,283.73 L114.91,283.33 L114.48,282.92 L114.09,282.50 L113.73,282.06 L113.39,281.61 L113.07,281.16 L112.76,280.71 L112.43,280.85 L112.56,281.40 L112.73,281.95 L112.92,282.51 L113.13,283.07 L113.36,283.64 L113.59,284.23 L113.84,284.84 L114.09,285.46 L114.35,286.11 L114.61,286.78 L114.89,287.48 L115.17,288.21 L115.46,288.96 L115.76,289.74Z"/><path d="M123.09,284.21 L122.58,283.97 L122.11,283.69 L121.68,283.40 L121.29,283.07 L120.94,282.73 L120.64,282.37 L120.38,281.99 L120.17,281.59 L120.00,281.19 L119.87,280.77 L119.78,280.35 L119.72,279.92 L119.68,279.48 L119.65,279.04 L119.30,278.97 L119.12,279.40 L118.97,279.85 L118.85,280.32 L118.75,280.79 L118.67,281.29 L118.59,281.80 L118.52,282.33 L118.46,282.88 L118.41,283.46 L118.36,284.06 L118.31,284.70 L118.28,285.36 L118.25,286.06 L118.24,286.80Z"/><path d="M132.99,285.76 L132.90,284.96 L132.81,284.19 L132.72,283.45 L132.62,282.74 L132.52,282.06 L132.42,281.40 L132.32,280.77 L132.22,280.16 L132.11,279.57 L131.99,279.00 L131.86,278.44 L131.72,277.90 L131.54,277.37 L131.33,276.86 L130.98,276.94 L130.98,277.47 L130.97,277.99 L130.94,278.52 L130.87,279.04 L130.77,279.56 L130.63,280.08 L130.44,280.59 L130.20,281.10 L129.92,281.60 L129.60,282.09 L129.22,282.56 L128.80,283.02 L128.33,283.46 L127.82,283.88Z"/><path d="M136.73,289.56 L137.16,288.62 L137.56,287.70 L137.94,286.80 L138.29,285.93 L138.63,285.07 L138.94,284.23 L139.23,283.40 L139.51,282.58 L139.76,281.78 L139.99,280.97 L140.20,280.17 L140.38,279.37 L140.52,278.57 L140.62,277.75 L140.27,277.68 L139.98,278.42 L139.67,279.15 L139.33,279.86 L138.96,280.55 L138.55,281.21 L138.09,281.85 L137.59,282.46 L137.04,283.04 L136.45,283.58 L135.81,284.08 L135.13,284.54 L134.41,284.96 L133.64,285.34 L132.84,285.67Z"/><path d="M136.86,302.42 L137.59,302.31 L138.31,302.26 L139.02,302.26 L139.70,302.32 L140.38,302.43 L141.03,302.60 L141.66,302.82 L142.26,303.10 L142.84,303.42 L143.39,303.79 L143.91,304.20 L144.42,304.64 L144.91,305.11 L145.39,305.61 L145.68,305.40 L145.36,304.77 L144.99,304.16 L144.60,303.57 L144.17,302.99 L143.73,302.42 L143.26,301.86 L142.77,301.29 L142.26,300.73 L141.72,300.16 L141.15,299.58 L140.56,299.00 L139.93,298.40 L139.26,297.80 L138.56,297.19Z"/><path d="M133.38,306.17 L133.98,306.25 L134.54,306.33 L135.07,306.43 L135.58,306.54 L136.05,306.65 L136.49,306.78 L136.91,306.92 L137.29,307.07 L137.65,307.22 L137.99,307.38 L138.31,307.54 L138.61,307.69 L138.90,307.82 L139.18,307.94 L139.43,307.68 L139.28,307.40 L139.11,307.13 L138.93,306.85 L138.74,306.55 L138.55,306.23 L138.36,305.89 L138.17,305.52 L137.99,305.12 L137.82,304.69 L137.65,304.24 L137.49,303.75 L137.34,303.23 L137.19,302.67 L137.06,302.09Z"/><path d="M126.53,308.41 L127.04,308.95 L127.53,309.47 L128.00,309.95 L128.46,310.41 L128.91,310.84 L129.34,311.25 L129.75,311.63 L130.16,311.99 L130.56,312.33 L130.96,312.66 L131.36,312.96 L131.76,313.24 L132.18,313.50 L132.61,313.71 L132.83,313.42 L132.55,313.06 L132.28,312.70 L132.04,312.33 L131.82,311.94 L131.63,311.53 L131.49,311.10 L131.38,310.65 L131.31,310.18 L131.29,309.70 L131.31,309.20 L131.38,308.68 L131.49,308.16 L131.66,307.62 L131.87,307.08Z"/><path d="M116.48,303.52 L116.27,304.29 L116.01,305.03 L115.71,305.73 L115.35,306.39 L114.96,307.01 L114.52,307.60 L114.04,308.14 L113.52,308.64 L112.97,309.09 L112.39,309.51 L111.78,309.89 L111.14,310.23 L110.49,310.55 L109.81,310.85 L109.91,311.20 L110.66,311.09 L111.40,310.93 L112.13,310.74 L112.87,310.52 L113.60,310.28 L114.33,310.01 L115.08,309.72 L115.83,309.41 L116.60,309.08 L117.38,308.73 L118.18,308.35 L118.99,307.95 L119.83,307.52 L120.69,307.06Z"/><path d="M114.00,295.48 L113.22,295.98 L112.46,296.46 L111.73,296.94 L111.02,297.40 L110.33,297.85 L109.67,298.28 L109.03,298.71 L108.40,299.13 L107.80,299.55 L107.21,299.96 L106.64,300.38 L106.09,300.80 L105.57,301.24 L105.07,301.71 L105.28,302.00 L105.88,301.72 L106.48,301.44 L107.09,301.19 L107.72,300.96 L108.37,300.76 L109.04,300.59 L109.72,300.47 L110.43,300.39 L111.15,300.36 L111.88,300.37 L112.64,300.43 L113.40,300.53 L114.18,300.69 L114.96,300.89Z"/></g><g fill="#FCDCC5"><path d="M139.80,296.10 A13.5,13.5 0 1 1 112.80,296.10 A13.5,13.5 0 1 1 139.80,296.10Z"/><path d="M119.58,285.79 L118.87,285.58 L118.20,285.34 L117.56,285.07 L116.96,284.77 L116.39,284.45 L115.86,284.10 L115.37,283.73 L114.91,283.33 L114.48,282.92 L114.09,282.50 L113.73,282.06 L113.39,281.61 L113.07,281.16 L112.76,280.71 L112.43,280.85 L112.56,281.40 L112.73,281.95 L112.92,282.51 L113.13,283.07 L113.36,283.64 L113.59,284.23 L113.84,284.84 L114.09,285.46 L114.35,286.11 L114.61,286.78 L114.89,287.48 L115.17,288.21 L115.46,288.96 L115.76,289.74Z"/><path d="M123.09,284.21 L122.58,283.97 L122.11,283.69 L121.68,283.40 L121.29,283.07 L120.94,282.73 L120.64,282.37 L120.38,281.99 L120.17,281.59 L120.00,281.19 L119.87,280.77 L119.78,280.35 L119.72,279.92 L119.68,279.48 L119.65,279.04 L119.30,278.97 L119.12,279.40 L118.97,279.85 L118.85,280.32 L118.75,280.79 L118.67,281.29 L118.59,281.80 L118.52,282.33 L118.46,282.88 L118.41,283.46 L118.36,284.06 L118.31,284.70 L118.28,285.36 L118.25,286.06 L118.24,286.80Z"/><path d="M132.99,285.76 L132.90,284.96 L132.81,284.19 L132.72,283.45 L132.62,282.74 L132.52,282.06 L132.42,281.40 L132.32,280.77 L132.22,280.16 L132.11,279.57 L131.99,279.00 L131.86,278.44 L131.72,277.90 L131.54,277.37 L131.33,276.86 L130.98,276.94 L130.98,277.47 L130.97,277.99 L130.94,278.52 L130.87,279.04 L130.77,279.56 L130.63,280.08 L130.44,280.59 L130.20,281.10 L129.92,281.60 L129.60,282.09 L129.22,282.56 L128.80,283.02 L128.33,283.46 L127.82,283.88Z"/><path d="M136.73,289.56 L137.16,288.62 L137.56,287.70 L137.94,286.80 L138.29,285.93 L138.63,285.07 L138.94,284.23 L139.23,283.40 L139.51,282.58 L139.76,281.78 L139.99,280.97 L140.20,280.17 L140.38,279.37 L140.52,278.57 L140.62,277.75 L140.27,277.68 L139.98,278.42 L139.67,279.15 L139.33,279.86 L138.96,280.55 L138.55,281.21 L138.09,281.85 L137.59,282.46 L137.04,283.04 L136.45,283.58 L135.81,284.08 L135.13,284.54 L134.41,284.96 L133.64,285.34 L132.84,285.67Z"/><path d="M136.86,302.42 L137.59,302.31 L138.31,302.26 L139.02,302.26 L139.70,302.32 L140.38,302.43 L141.03,302.60 L141.66,302.82 L142.26,303.10 L142.84,303.42 L143.39,303.79 L143.91,304.20 L144.42,304.64 L144.91,305.11 L145.39,305.61 L145.68,305.40 L145.36,304.77 L144.99,304.16 L144.60,303.57 L144.17,302.99 L143.73,302.42 L143.26,301.86 L142.77,301.29 L142.26,300.73 L141.72,300.16 L141.15,299.58 L140.56,299.00 L139.93,298.40 L139.26,297.80 L138.56,297.19Z"/><path d="M133.38,306.17 L133.98,306.25 L134.54,306.33 L135.07,306.43 L135.58,306.54 L136.05,306.65 L136.49,306.78 L136.91,306.92 L137.29,307.07 L137.65,307.22 L137.99,307.38 L138.31,307.54 L138.61,307.69 L138.90,307.82 L139.18,307.94 L139.43,307.68 L139.28,307.40 L139.11,307.13 L138.93,306.85 L138.74,306.55 L138.55,306.23 L138.36,305.89 L138.17,305.52 L137.99,305.12 L137.82,304.69 L137.65,304.24 L137.49,303.75 L137.34,303.23 L137.19,302.67 L137.06,302.09Z"/><path d="M126.53,308.41 L127.04,308.95 L127.53,309.47 L128.00,309.95 L128.46,310.41 L128.91,310.84 L129.34,311.25 L129.75,311.63 L130.16,311.99 L130.56,312.33 L130.96,312.66 L131.36,312.96 L131.76,313.24 L132.18,313.50 L132.61,313.71 L132.83,313.42 L132.55,313.06 L132.28,312.70 L132.04,312.33 L131.82,311.94 L131.63,311.53 L131.49,311.10 L131.38,310.65 L131.31,310.18 L131.29,309.70 L131.31,309.20 L131.38,308.68 L131.49,308.16 L131.66,307.62 L131.87,307.08Z"/><path d="M116.48,303.52 L116.27,304.29 L116.01,305.03 L115.71,305.73 L115.35,306.39 L114.96,307.01 L114.52,307.60 L114.04,308.14 L113.52,308.64 L112.97,309.09 L112.39,309.51 L111.78,309.89 L111.14,310.23 L110.49,310.55 L109.81,310.85 L109.91,311.20 L110.66,311.09 L111.40,310.93 L112.13,310.74 L112.87,310.52 L113.60,310.28 L114.33,310.01 L115.08,309.72 L115.83,309.41 L116.60,309.08 L117.38,308.73 L118.18,308.35 L118.99,307.95 L119.83,307.52 L120.69,307.06Z"/><path d="M114.00,295.48 L113.22,295.98 L112.46,296.46 L111.73,296.94 L111.02,297.40 L110.33,297.85 L109.67,298.28 L109.03,298.71 L108.40,299.13 L107.80,299.55 L107.21,299.96 L106.64,300.38 L106.09,300.80 L105.57,301.24 L105.07,301.71 L105.28,302.00 L105.88,301.72 L106.48,301.44 L107.09,301.19 L107.72,300.96 L108.37,300.76 L109.04,300.59 L109.72,300.47 L110.43,300.39 L111.15,300.36 L111.88,300.37 L112.64,300.43 L113.40,300.53 L114.18,300.69 L114.96,300.89Z"/></g>
<circle cx="123.6" cy="289.6" r="1.85" fill="#6a45b8" stroke="#3a2470" stroke-width="0.6"/>
<circle cx="121.5" cy="295.2" r="1.85" fill="#6a45b8" stroke="#3a2470" stroke-width="0.6"/>
<circle cx="132.1" cy="294.9" r="1.85" fill="#6a45b8" stroke="#3a2470" stroke-width="0.6"/>
<circle cx="127.7" cy="302.9" r="1.85" fill="#6a45b8" stroke="#3a2470" stroke-width="0.6"/>
<line x1="162.95" y1="295.0" x2="170.25" y2="295.0" stroke="#111" stroke-width="1.1"/>
<line x1="166.6" y1="291.35" x2="166.6" y2="298.65" stroke="#111" stroke-width="1.1"/>
<rect x="191.5" y="292.09999999999997" width="4.0" height="5.4" fill="#fff" stroke="#444" stroke-width="0.6"/>
<path d="M176.0,290.4 H191.5 V299.2 H176.0 L177.2,294.79999999999995 Z" fill="#097B94" stroke="#333" stroke-width="0.6"/>
<line x1="177.0" y1="294.79999999999995" x2="191.5" y2="294.79999999999995" stroke="#22383d" stroke-width="1.1"/>
<line x1="184.835" y1="290.4" x2="184.835" y2="299.2" stroke="#22383d" stroke-width="0.6"/>
<circle cx="214.4" cy="294.5" r="18.4" fill="#FCDCC5" stroke="#333" stroke-width="0.8"/>
<text x="201.8" y="290.2" font-size="7.8" text-anchor="start" font-weight="normal" font-style="normal" fill="#1a1a1a" stroke="#1a1a1a" stroke-width="0.18">NFAT</text>
<path d="M203.9,304.3 V292.3 H220.70000000000002" fill="none" stroke="#222" stroke-width="0.7"/>
<path d="M223.0,292.3 L220.20000000000002,290.8 L220.20000000000002,293.8 Z" fill="#222"/>
<path d="M202.1,304.3 H226.4" fill="none" stroke="#222" stroke-width="0.7"/>
<rect x="206.6" y="294.3" width="19.5" height="10.0" fill="#fff" stroke="#333" stroke-width="0.7"/>
<text x="216.3" y="302.0" font-size="7.2" text-anchor="middle" font-weight="normal" font-style="normal" fill="#222" stroke="#222" stroke-width="0.18">β-gal</text>
<text x="260.5" y="11.2" font-size="13" text-anchor="start" font-weight="bold" font-style="normal" fill="#111" stroke="#111" stroke-width="0.45">b</text>
<text x="328" y="11.2" font-size="8.8" text-anchor="middle" font-weight="bold" font-style="normal" fill="#111" stroke="#111" stroke-width="0.1">NP-45</text>
<line x1="303.8" y1="13.3" x2="303.8" y2="112.5" stroke="#5a5a5a" stroke-width="1.5"/>
<line x1="300.3" y1="112.5" x2="303.8" y2="112.5" stroke="#111" stroke-width="1.1"/>
<text x="297.90000000000003" y="115.0" font-size="7.2" text-anchor="end" font-weight="normal" font-style="normal" fill="#262626" stroke="#262626" stroke-width="0.18">0.0</text>
<line x1="300.3" y1="87.7" x2="303.8" y2="87.7" stroke="#111" stroke-width="1.1"/>
<text x="297.90000000000003" y="90.2" font-size="7.2" text-anchor="end" font-weight="normal" font-style="normal" fill="#262626" stroke="#262626" stroke-width="0.18">0.5</text>
<line x1="300.3" y1="62.9" x2="303.8" y2="62.9" stroke="#111" stroke-width="1.1"/>
<text x="297.90000000000003" y="65.4" font-size="7.2" text-anchor="end" font-weight="normal" font-style="normal" fill="#262626" stroke="#262626" stroke-width="0.18">1.0</text>
<line x1="300.3" y1="38.099999999999994" x2="303.8" y2="38.099999999999994" stroke="#111" stroke-width="1.1"/>
<text x="297.90000000000003" y="40.599999999999994" font-size="7.2" text-anchor="end" font-weight="normal" font-style="normal" fill="#262626" stroke="#262626" stroke-width="0.18">1.5</text>
<line x1="300.3" y1="13.299999999999997" x2="303.8" y2="13.299999999999997" stroke="#111" stroke-width="1.1"/>
<text x="297.90000000000003" y="15.799999999999997" font-size="7.2" text-anchor="end" font-weight="normal" font-style="normal" fill="#262626" stroke="#262626" stroke-width="0.18">2.0</text>
<line x1="300.3" y1="112.5" x2="356.7" y2="112.5" stroke="#222" stroke-width="1.2"/>
<rect x="311.8" y="81.3" width="14.399999999999977" height="31.200000000000003" fill="#C0088C" stroke="#111" stroke-width="1.1"/>
<rect x="334.2" y="46.3" width="14.600000000000023" height="66.2" fill="#097B94" stroke="#111" stroke-width="1.1"/>
<line x1="318.9" y1="112.5" x2="318.9" y2="116.3" stroke="#222" stroke-width="1.1"/>
<line x1="341.5" y1="112.5" x2="341.5" y2="116.3" stroke="#222" stroke-width="1.1"/>
<text x="318.8" y="125.5" font-size="8.4" text-anchor="middle" font-weight="normal" font-style="normal" fill="#262626" stroke="#262626" stroke-width="0.18">Exo</text>
<text x="341.3" y="125.5" font-size="8.4" text-anchor="middle" font-weight="normal" font-style="normal" fill="#262626" stroke="#262626" stroke-width="0.18">Endo</text>
<text x="270.3" y="62.8" font-size="8.8" text-anchor="middle" font-weight="normal" font-style="normal" fill="#2a2a2a" stroke="#2a2a2a" stroke-width="0.18" transform="rotate(-90 270.3 62.8)">Fluorescence</text>
<text x="280.4" y="62.8" font-size="8.8" text-anchor="middle" font-weight="normal" font-style="normal" fill="#2a2a2a" stroke="#2a2a2a" stroke-width="0.18" transform="rotate(-90 280.4 62.8)">(normalized units)</text>
<text x="329.2" y="27.2" font-size="7.5" text-anchor="middle" font-weight="normal" font-style="normal" fill="#262626" stroke="#262626" stroke-width="0.18">p = 0.0017</text>
<line x1="318" y1="29.6" x2="341.6" y2="29.6" stroke="#444" stroke-width="1.0"/>
<line x1="318.9" y1="79.6" x2="318.9" y2="81.3" stroke="#111" stroke-width="1.0"/>
<line x1="315.9" y1="79.6" x2="321.9" y2="79.6" stroke="#111" stroke-width="1.0"/>
<circle cx="315.8" cy="75.1" r="2.1" fill="#C0088C" stroke="#111" stroke-width="0.9"/>
<circle cx="321.7" cy="76.4" r="2.1" fill="#C0088C" stroke="#111" stroke-width="0.9"/>
<circle cx="318.8" cy="82.2" r="2.1" fill="#C0088C" stroke="#111" stroke-width="0.9"/>
<circle cx="313.2" cy="85.0" r="2.1" fill="#C0088C" stroke="#111" stroke-width="0.9"/>
<circle cx="324.7" cy="84.7" r="2.1" fill="#C0088C" stroke="#111" stroke-width="0.9"/>
<line x1="341.4" y1="43.6" x2="341.4" y2="46.3" stroke="#111" stroke-width="1.0"/>
<line x1="336.9" y1="43.6" x2="345.9" y2="43.6" stroke="#111" stroke-width="1.0"/>
<circle cx="335.8" cy="40.9" r="2.1" fill="#097B94" stroke="#111" stroke-width="0.9"/>
<circle cx="346.9" cy="42.1" r="2.1" fill="#097B94" stroke="#111" stroke-width="0.9"/>
<circle cx="341.4" cy="43.8" r="2.1" fill="#097B94" stroke="#111" stroke-width="0.9"/>
<circle cx="341.4" cy="49.7" r="2.1" fill="#097B94" stroke="#111" stroke-width="0.9"/>
<circle cx="341.4" cy="54.8" r="2.1" fill="#097B94" stroke="#111" stroke-width="0.9"/>
<text x="370.5" y="11.2" font-size="13" text-anchor="start" font-weight="bold" font-style="normal" fill="#111" stroke="#111" stroke-width="0.45">c</text>
<text x="440.6" y="11.2" font-size="8.8" text-anchor="middle" font-weight="bold" font-style="normal" fill="#111" stroke="#111" stroke-width="0.1">HA-16</text>
<line x1="414.2" y1="14.2" x2="414.2" y2="112.5" stroke="#5a5a5a" stroke-width="1.5"/>
<line x1="410.7" y1="112.5" x2="414.2" y2="112.5" stroke="#111" stroke-width="1.1"/>
<text x="408.7" y="115.0" font-size="7.2" text-anchor="end" font-weight="normal" font-style="normal" fill="#262626" stroke="#262626" stroke-width="0.18">0.0</text>
<line x1="410.7" y1="92.85" x2="414.2" y2="92.85" stroke="#111" stroke-width="1.1"/>
<text x="408.7" y="95.35" font-size="7.2" text-anchor="end" font-weight="normal" font-style="normal" fill="#262626" stroke="#262626" stroke-width="0.18">0.5</text>
<line x1="410.7" y1="73.2" x2="414.2" y2="73.2" stroke="#111" stroke-width="1.1"/>
<text x="408.7" y="75.7" font-size="7.2" text-anchor="end" font-weight="normal" font-style="normal" fill="#262626" stroke="#262626" stroke-width="0.18">1.0</text>
<line x1="410.7" y1="53.550000000000004" x2="414.2" y2="53.550000000000004" stroke="#111" stroke-width="1.1"/>
<text x="408.7" y="56.050000000000004" font-size="7.2" text-anchor="end" font-weight="normal" font-style="normal" fill="#262626" stroke="#262626" stroke-width="0.18">1.5</text>
<line x1="410.7" y1="33.900000000000006" x2="414.2" y2="33.900000000000006" stroke="#111" stroke-width="1.1"/>
<text x="408.7" y="36.400000000000006" font-size="7.2" text-anchor="end" font-weight="normal" font-style="normal" fill="#262626" stroke="#262626" stroke-width="0.18">2.0</text>
<line x1="410.7" y1="14.25" x2="414.2" y2="14.25" stroke="#111" stroke-width="1.1"/>
<text x="408.7" y="16.75" font-size="7.2" text-anchor="end" font-weight="normal" font-style="normal" fill="#262626" stroke="#262626" stroke-width="0.18">2.5</text>
<line x1="410.7" y1="112.5" x2="467.1" y2="112.5" stroke="#222" stroke-width="1.2"/>
<rect x="444.5" y="36.4" width="14.0" height="76.1" fill="#097B94" stroke="#111" stroke-width="1.1"/>
<line x1="429.4" y1="112.5" x2="429.4" y2="116.5" stroke="#222" stroke-width="1.1"/>
<line x1="451.4" y1="112.5" x2="451.4" y2="116.5" stroke="#222" stroke-width="1.1"/>
<text x="428.4" y="126.3" font-size="8.4" text-anchor="middle" font-weight="normal" font-style="normal" fill="#262626" stroke="#262626" stroke-width="0.18">Exo</text>
<text x="455.6" y="126.3" font-size="8.4" text-anchor="middle" font-weight="normal" font-style="normal" fill="#262626" stroke="#262626" stroke-width="0.18">Endo</text>
<text x="379.8" y="62.8" font-size="8.8" text-anchor="middle" font-weight="normal" font-style="normal" fill="#2a2a2a" stroke="#2a2a2a" stroke-width="0.18" transform="rotate(-90 379.8 62.8)">Fluorescence</text>
<text x="389.9" y="62.8" font-size="8.8" text-anchor="middle" font-weight="normal" font-style="normal" fill="#2a2a2a" stroke="#2a2a2a" stroke-width="0.18" transform="rotate(-90 389.9 62.8)">(normalized units)</text>
<text x="441.4" y="23.3" font-size="7.5" text-anchor="middle" font-weight="normal" font-style="normal" fill="#262626" stroke="#262626" stroke-width="0.18">p &lt; 0.0001</text>
<line x1="430.7" y1="26.2" x2="454" y2="26.2" stroke="#555" stroke-width="1.0"/>
<circle cx="424" cy="111.3" r="2.0" fill="#C0088C" stroke="#111" stroke-width="0.9"/>
<circle cx="429.4" cy="110" r="2.0" fill="#C0088C" stroke="#111" stroke-width="0.9"/>
<circle cx="434.8" cy="111" r="2.0" fill="#C0088C" stroke="#111" stroke-width="0.9"/>
<circle cx="446.2" cy="35.8" r="2.2" fill="#097B94" stroke="#111" stroke-width="1.0"/>
<circle cx="451.4" cy="35.0" r="2.2" fill="#097B94" stroke="#111" stroke-width="1.0"/>
<circle cx="456.6" cy="35.8" r="2.2" fill="#097B94" stroke="#111" stroke-width="1.0"/>
<text x="482.5" y="11.2" font-size="13" text-anchor="start" font-weight="bold" font-style="normal" fill="#111" stroke="#111" stroke-width="0.45">d</text>
<text x="599.8" y="11.2" font-size="8.8" text-anchor="middle" font-weight="bold" font-style="normal" fill="#111" stroke="#111" stroke-width="0.1">NP-45</text>
<line x1="519.6" y1="13.2" x2="519.6" y2="111.3" stroke="#5a5a5a" stroke-width="1.5"/>
<line x1="516.1" y1="111.3" x2="519.6" y2="111.3" stroke="#111" stroke-width="1.1"/>
<text x="514.8" y="113.8" font-size="7.2" text-anchor="end" font-weight="normal" font-style="normal" fill="#262626" stroke="#262626" stroke-width="0.18">0</text>
<line x1="516.1" y1="78.6" x2="519.6" y2="78.6" stroke="#111" stroke-width="1.1"/>
<text x="514.8" y="81.1" font-size="7.2" text-anchor="end" font-weight="normal" font-style="normal" fill="#262626" stroke="#262626" stroke-width="0.18">1</text>
<line x1="516.1" y1="45.89999999999999" x2="519.6" y2="45.89999999999999" stroke="#111" stroke-width="1.1"/>
<text x="514.8" y="48.39999999999999" font-size="7.2" text-anchor="end" font-weight="normal" font-style="normal" fill="#262626" stroke="#262626" stroke-width="0.18">2</text>
<line x1="516.1" y1="13.199999999999989" x2="519.6" y2="13.199999999999989" stroke="#111" stroke-width="1.1"/>
<text x="514.8" y="15.699999999999989" font-size="7.2" text-anchor="end" font-weight="normal" font-style="normal" fill="#262626" stroke="#262626" stroke-width="0.18">3</text>
<line x1="516" y1="111.3" x2="685" y2="111.3" stroke="#222" stroke-width="1.2"/>
<rect x="526.6" y="107.04899999999999" width="12.5" height="4.251000000000005" fill="#C23C96" stroke="#111" stroke-width="1.1"/>
<rect x="539.1" y="101.163" width="12.299999999999955" height="10.137" fill="#097B94" stroke="#111" stroke-width="1.1"/>
<line x1="539.1" y1="111.3" x2="539.1" y2="115.3" stroke="#222" stroke-width="1.1"/>
<rect x="558.1" y="104.106" width="12.5" height="7.194000000000003" fill="#C23C96" stroke="#111" stroke-width="1.1"/>
<rect x="570.6" y="88.083" width="12.299999999999955" height="23.217" fill="#097B94" stroke="#111" stroke-width="1.1"/>
<line x1="570.6" y1="111.3" x2="570.6" y2="115.3" stroke="#222" stroke-width="1.1"/>
<rect x="589.7" y="96.258" width="12.5" height="15.042000000000002" fill="#C23C96" stroke="#111" stroke-width="1.1"/>
<rect x="602.2" y="72.714" width="12.299999999999955" height="38.586" fill="#097B94" stroke="#111" stroke-width="1.1"/>
<line x1="602.2" y1="111.3" x2="602.2" y2="115.3" stroke="#222" stroke-width="1.1"/>
<rect x="621.4" y="85.13999999999999" width="12.5" height="26.16000000000001" fill="#C23C96" stroke="#111" stroke-width="1.1"/>
<rect x="633.9" y="46.22699999999999" width="12.299999999999955" height="65.07300000000001" fill="#097B94" stroke="#111" stroke-width="1.1"/>
<line x1="633.9" y1="111.3" x2="633.9" y2="115.3" stroke="#222" stroke-width="1.1"/>
<rect x="653.4" y="63.230999999999995" width="12.5" height="48.069" fill="#C23C96" stroke="#111" stroke-width="1.1"/>
<rect x="665.9" y="26.279999999999987" width="12.299999999999955" height="85.02000000000001" fill="#097B94" stroke="#111" stroke-width="1.1"/>
<line x1="665.9" y1="111.3" x2="665.9" y2="115.3" stroke="#222" stroke-width="1.1"/>
<text x="539.1" y="123.2" font-size="7.2" text-anchor="middle" font-weight="normal" font-style="normal" fill="#262626" stroke="#262626" stroke-width="0.18">0.125</text>
<text x="570.6" y="123.2" font-size="7.2" text-anchor="middle" font-weight="normal" font-style="normal" fill="#262626" stroke="#262626" stroke-width="0.18">0.25</text>
<text x="602.2" y="123.2" font-size="7.2" text-anchor="middle" font-weight="normal" font-style="normal" fill="#262626" stroke="#262626" stroke-width="0.18">0.5</text>
<text x="633.9" y="123.2" font-size="7.2" text-anchor="middle" font-weight="normal" font-style="normal" fill="#262626" stroke="#262626" stroke-width="0.18">1.0</text>
<text x="665.9" y="123.2" font-size="7.2" text-anchor="middle" font-weight="normal" font-style="normal" fill="#262626" stroke="#262626" stroke-width="0.18">2.0</text>
<text x="604.7" y="133.3" font-size="8.9" text-anchor="middle" font-weight="normal" font-style="normal" fill="#262626" stroke="#262626" stroke-width="0.18">mRNA dose (µg)</text>
<text x="495.3" y="64.2" font-size="8.8" text-anchor="middle" font-weight="normal" font-style="normal" fill="#2a2a2a" stroke="#2a2a2a" stroke-width="0.18" transform="rotate(-90 495.3 64.2)">Fluorescence</text>
<text x="505.4" y="64.2" font-size="8.8" text-anchor="middle" font-weight="normal" font-style="normal" fill="#2a2a2a" stroke="#2a2a2a" stroke-width="0.18" transform="rotate(-90 505.4 64.2)">(normalized units)</text>
<text x="547.2" y="36.4" font-size="7.5" text-anchor="middle" font-weight="normal" font-style="normal" fill="#262626" stroke="#262626" stroke-width="0.18">p &lt; 0.0001</text>
<line x1="567.2" y1="25.6" x2="567.2" y2="43.0" stroke="#333" stroke-width="1.1"/>
<rect x="572.2" y="26.0" width="10.8" height="5.9" fill="#C0088C" stroke="#111" stroke-width="0.9"/>
<rect x="572.2" y="37.6" width="10.8" height="5.9" fill="#097B94" stroke="#111" stroke-width="0.9"/>
<text x="586.7" y="32.0" font-size="8.2" text-anchor="start" font-weight="normal" font-style="normal" fill="#262626" stroke="#262626" stroke-width="0.18">Exo</text>
<text x="586.7" y="43.2" font-size="8.2" text-anchor="start" font-weight="normal" font-style="normal" fill="#262626" stroke="#262626" stroke-width="0.18">Endo</text>
<line x1="532.85" y1="102.471" x2="532.85" y2="107.04899999999999" stroke="#111" stroke-width="1.0"/>
<line x1="530.35" y1="102.471" x2="535.35" y2="102.471" stroke="#111" stroke-width="1.0"/>
<line x1="545.25" y1="97.23899999999999" x2="545.25" y2="101.163" stroke="#111" stroke-width="1.0"/>
<line x1="542.75" y1="97.23899999999999" x2="547.75" y2="97.23899999999999" stroke="#111" stroke-width="1.0"/>
<line x1="564.35" y1="98.22" x2="564.35" y2="104.106" stroke="#111" stroke-width="1.0"/>
<line x1="561.85" y1="98.22" x2="566.85" y2="98.22" stroke="#111" stroke-width="1.0"/>
<line x1="576.75" y1="83.832" x2="576.75" y2="88.083" stroke="#111" stroke-width="1.0"/>
<line x1="574.25" y1="83.832" x2="579.25" y2="83.832" stroke="#111" stroke-width="1.0"/>
<line x1="595.95" y1="92.661" x2="595.95" y2="96.258" stroke="#111" stroke-width="1.0"/>
<line x1="593.45" y1="92.661" x2="598.45" y2="92.661" stroke="#111" stroke-width="1.0"/>
<line x1="640.05" y1="39.359999999999985" x2="640.05" y2="46.22699999999999" stroke="#111" stroke-width="1.0"/>
<line x1="637.55" y1="39.359999999999985" x2="642.55" y2="39.359999999999985" stroke="#111" stroke-width="1.0"/>
<line x1="659.65" y1="54.72899999999999" x2="659.65" y2="63.230999999999995" stroke="#111" stroke-width="1.0"/>
<line x1="657.15" y1="54.72899999999999" x2="662.15" y2="54.72899999999999" stroke="#111" stroke-width="1.0"/>
<line x1="672.05" y1="19.086" x2="672.05" y2="26.279999999999987" stroke="#111" stroke-width="1.0"/>
<line x1="669.55" y1="19.086" x2="674.55" y2="19.086" stroke="#111" stroke-width="1.0"/>
<circle cx="532.6" cy="98.1" r="1.7" fill="#C23C96" stroke="#111" stroke-width="0.8"/>
<circle cx="529.3" cy="111.0" r="1.7" fill="#C23C96" stroke="#111" stroke-width="0.8"/>
<circle cx="535.8" cy="111.0" r="1.7" fill="#C23C96" stroke="#111" stroke-width="0.8"/>
<circle cx="564.1" cy="93.5" r="1.7" fill="#C23C96" stroke="#111" stroke-width="0.8"/>
<circle cx="564.1" cy="106.3" r="1.7" fill="#C23C96" stroke="#111" stroke-width="0.8"/>
<circle cx="564.1" cy="109.6" r="1.7" fill="#C23C96" stroke="#111" stroke-width="0.8"/>
<circle cx="592.8" cy="90.7" r="1.7" fill="#C23C96" stroke="#111" stroke-width="0.8"/>
<circle cx="598.9" cy="93.4" r="1.7" fill="#C23C96" stroke="#111" stroke-width="0.8"/>
<circle cx="596.1" cy="103.7" r="1.7" fill="#C23C96" stroke="#111" stroke-width="0.8"/>
<circle cx="624.6" cy="82.5" r="1.7" fill="#C23C96" stroke="#111" stroke-width="0.8"/>
<circle cx="630.4" cy="84.1" r="1.7" fill="#C23C96" stroke="#111" stroke-width="0.8"/>
<circle cx="627.7" cy="88.0" r="1.7" fill="#C23C96" stroke="#111" stroke-width="0.8"/>
<circle cx="659.0" cy="46.5" r="1.7" fill="#C23C96" stroke="#111" stroke-width="0.8"/>
<circle cx="656.2" cy="71.2" r="1.7" fill="#C23C96" stroke="#111" stroke-width="0.8"/>
<circle cx="662.6" cy="71.2" r="1.7" fill="#C23C96" stroke="#111" stroke-width="0.8"/>
<circle cx="545.2" cy="94.9" r="1.7" fill="#097B94" stroke="#111" stroke-width="0.8"/>
<circle cx="545.2" cy="99.4" r="1.7" fill="#097B94" stroke="#111" stroke-width="0.8"/>
<circle cx="545.2" cy="109.0" r="1.7" fill="#097B94" stroke="#111" stroke-width="0.8"/>
<circle cx="576.9" cy="80.4" r="1.7" fill="#097B94" stroke="#111" stroke-width="0.8"/>
<circle cx="576.9" cy="88.7" r="1.7" fill="#097B94" stroke="#111" stroke-width="0.8"/>
<circle cx="576.9" cy="94.0" r="1.7" fill="#097B94" stroke="#111" stroke-width="0.8"/>
<circle cx="603.8" cy="73.9" r="1.7" fill="#097B94" stroke="#111" stroke-width="0.8"/>
<circle cx="608.7" cy="71.7" r="1.7" fill="#097B94" stroke="#111" stroke-width="0.8"/>
<circle cx="613.5" cy="72.7" r="1.7" fill="#097B94" stroke="#111" stroke-width="0.8"/>
<circle cx="636.9" cy="38.4" r="1.7" fill="#097B94" stroke="#111" stroke-width="0.8"/>
<circle cx="643.0" cy="40.1" r="1.7" fill="#097B94" stroke="#111" stroke-width="0.8"/>
<circle cx="640.1" cy="58.0" r="1.7" fill="#097B94" stroke="#111" stroke-width="0.8"/>
<circle cx="672.1" cy="16.7" r="1.7" fill="#097B94" stroke="#111" stroke-width="0.8"/>
<circle cx="672.1" cy="22.9" r="1.7" fill="#097B94" stroke="#111" stroke-width="0.8"/>
<circle cx="672.1" cy="36.8" r="1.7" fill="#097B94" stroke="#111" stroke-width="0.8"/>
<text x="260.3" y="216.2" font-size="13" text-anchor="start" font-weight="bold" font-style="normal" fill="#111" stroke="#111" stroke-width="0.45">f</text>
<line x1="303.2" y1="218.7" x2="303.2" y2="315.0" stroke="#5a5a5a" stroke-width="1.5"/>
<line x1="299.7" y1="315.0" x2="303.2" y2="315.0" stroke="#111" stroke-width="1.1"/>
<text x="299.4" y="317.5" font-size="7.2" text-anchor="end" font-weight="normal" font-style="normal" fill="#262626" stroke="#262626" stroke-width="0.18">0.0</text>
<line x1="299.7" y1="282.9" x2="303.2" y2="282.9" stroke="#111" stroke-width="1.1"/>
<text x="299.4" y="285.4" font-size="7.2" text-anchor="end" font-weight="normal" font-style="normal" fill="#262626" stroke="#262626" stroke-width="0.18">0.5</text>
<line x1="299.7" y1="250.8" x2="303.2" y2="250.8" stroke="#111" stroke-width="1.1"/>
<text x="299.4" y="253.3" font-size="7.2" text-anchor="end" font-weight="normal" font-style="normal" fill="#262626" stroke="#262626" stroke-width="0.18">1.0</text>
<line x1="299.7" y1="218.7" x2="303.2" y2="218.7" stroke="#111" stroke-width="1.1"/>
<text x="299.4" y="221.2" font-size="7.2" text-anchor="end" font-weight="normal" font-style="normal" fill="#262626" stroke="#262626" stroke-width="0.18">1.5</text>
<line x1="299.7" y1="315.0" x2="360.4" y2="315.0" stroke="#222" stroke-width="1.2"/>
<rect x="311.5" y="304.3" width="16.30000000000001" height="10.699999999999989" fill="#C0088C" stroke="#111" stroke-width="1.1"/>
<rect x="336.2" y="250.9" width="15.199999999999989" height="64.1" fill="#097B94" stroke="#111" stroke-width="1.1"/>
<line x1="319.5" y1="315.0" x2="319.5" y2="319.0" stroke="#222" stroke-width="1.1"/>
<line x1="343.8" y1="315.0" x2="343.8" y2="319.0" stroke="#222" stroke-width="1.1"/>
<text x="319.4" y="328.2" font-size="8.4" text-anchor="middle" font-weight="normal" font-style="normal" fill="#262626" stroke="#262626" stroke-width="0.18">HA<tspan font-size="5" dy="-3">-</tspan></text>
<text x="343.8" y="328.2" font-size="8.4" text-anchor="middle" font-weight="normal" font-style="normal" fill="#262626" stroke="#262626" stroke-width="0.18">HA<tspan font-size="5" dy="-3">+</tspan></text>
<text x="270.4" y="266.8" font-size="8.8" text-anchor="middle" font-weight="normal" font-style="normal" fill="#2a2a2a" stroke="#2a2a2a" stroke-width="0.18" transform="rotate(-90 270.4 266.8)">HA mRNA</text>
<text x="280.5" y="266.8" font-size="8.8" text-anchor="middle" font-weight="normal" font-style="normal" fill="#2a2a2a" stroke="#2a2a2a" stroke-width="0.18" transform="rotate(-90 280.5 266.8)">(fold change)</text>
<text x="332.0" y="230.9" font-size="7.5" text-anchor="middle" font-weight="normal" font-style="normal" fill="#262626" stroke="#262626" stroke-width="0.18">p &lt; 0.0001</text>
<line x1="319.7" y1="234.0" x2="344.8" y2="234.0" stroke="#555" stroke-width="1.0"/>
<circle cx="314.3" cy="304.0" r="1.8" fill="#C0088C" stroke="#111" stroke-width="0.8"/>
<circle cx="319.5" cy="302.7" r="1.8" fill="#C0088C" stroke="#111" stroke-width="0.8"/>
<circle cx="324.8" cy="304.0" r="1.8" fill="#C0088C" stroke="#111" stroke-width="0.8"/>
<line x1="343.8" y1="248.4" x2="343.8" y2="250.9" stroke="#111" stroke-width="1.0"/>
<line x1="341.3" y1="248.4" x2="346.3" y2="248.4" stroke="#111" stroke-width="1.0"/>
<circle cx="340.5" cy="251.3" r="1.8" fill="#097B94" stroke="#111" stroke-width="0.8"/>
<circle cx="343.8" cy="248.5" r="1.8" fill="#097B94" stroke="#111" stroke-width="0.8"/>
<circle cx="347.3" cy="251.3" r="1.8" fill="#097B94" stroke="#111" stroke-width="0.8"/>
<line x1="385.2" y1="217.0" x2="385.2" y2="315.0" stroke="#5a5a5a" stroke-width="1.5"/>
<line x1="381.7" y1="315.0" x2="385.2" y2="315.0" stroke="#111" stroke-width="1.1"/>
<text x="381.0" y="317.5" font-size="7.2" text-anchor="end" font-weight="normal" font-style="normal" fill="#262626" stroke="#262626" stroke-width="0.18">0.0</text>
<line x1="381.7" y1="282.7" x2="385.2" y2="282.7" stroke="#111" stroke-width="1.1"/>
<text x="381.0" y="285.2" font-size="7.2" text-anchor="end" font-weight="normal" font-style="normal" fill="#262626" stroke="#262626" stroke-width="0.18">0.5</text>
<line x1="381.7" y1="250.4" x2="385.2" y2="250.4" stroke="#111" stroke-width="1.1"/>
<text x="381.0" y="252.9" font-size="7.2" text-anchor="end" font-weight="normal" font-style="normal" fill="#262626" stroke="#262626" stroke-width="0.18">1.0</text>
<line x1="381.7" y1="218.10000000000002" x2="385.2" y2="218.10000000000002" stroke="#111" stroke-width="1.1"/>
<text x="381.0" y="220.60000000000002" font-size="7.2" text-anchor="end" font-weight="normal" font-style="normal" fill="#262626" stroke="#262626" stroke-width="0.18">1.5</text>
<line x1="381.7" y1="315.0" x2="443.6" y2="315.0" stroke="#222" stroke-width="1.2"/>
<rect x="394.3" y="304.6" width="16.0" height="10.399999999999977" fill="#C0088C" stroke="#111" stroke-width="1.1"/>
<rect x="419.0" y="250.2" width="15.800000000000011" height="64.80000000000001" fill="#097B94" stroke="#111" stroke-width="1.1"/>
<line x1="402.3" y1="315.0" x2="402.3" y2="319.0" stroke="#222" stroke-width="1.1"/>
<line x1="426.9" y1="315.0" x2="426.9" y2="319.0" stroke="#222" stroke-width="1.1"/>
<text x="402.3" y="328.2" font-size="8.4" text-anchor="middle" font-weight="normal" font-style="normal" fill="#262626" stroke="#262626" stroke-width="0.18">HA<tspan font-size="5" dy="-3">-</tspan></text>
<text x="427.0" y="328.2" font-size="8.4" text-anchor="middle" font-weight="normal" font-style="normal" fill="#262626" stroke="#262626" stroke-width="0.18">HA<tspan font-size="5" dy="-3">+</tspan></text>
<text x="414.7" y="230.5" font-size="7.5" text-anchor="middle" font-weight="normal" font-style="normal" fill="#262626" stroke="#262626" stroke-width="0.18">p &lt; 0.0001</text>
<line x1="402.0" y1="233.7" x2="427.3" y2="233.7" stroke="#555" stroke-width="1.0"/>
<circle cx="397.2" cy="304.5" r="1.8" fill="#C0088C" stroke="#111" stroke-width="0.8"/>
<circle cx="402.3" cy="303.6" r="1.8" fill="#C0088C" stroke="#111" stroke-width="0.8"/>
<circle cx="407.5" cy="304.0" r="1.8" fill="#C0088C" stroke="#111" stroke-width="0.8"/>
<line x1="426.9" y1="248.3" x2="426.9" y2="250.2" stroke="#111" stroke-width="1.0"/>
<line x1="424.4" y1="248.3" x2="429.4" y2="248.3" stroke="#111" stroke-width="1.0"/>
<circle cx="424.3" cy="251.2" r="1.8" fill="#097B94" stroke="#111" stroke-width="0.8"/>
<circle cx="427.0" cy="246.4" r="1.8" fill="#097B94" stroke="#111" stroke-width="0.8"/>
<circle cx="429.5" cy="251.2" r="1.8" fill="#097B94" stroke="#111" stroke-width="0.8"/>
<text x="478.0" y="216.5" font-size="13" text-anchor="start" font-weight="bold" font-style="normal" fill="#111" stroke="#111" stroke-width="0.45">g</text>
<text x="579.2" y="212.7" font-size="8.8" text-anchor="middle" font-weight="bold" font-style="normal" fill="#111" stroke="#111" stroke-width="0.1">HA-16</text>
<line x1="518.4" y1="217.5" x2="518.4" y2="314.6" stroke="#5a5a5a" stroke-width="1.5"/>
<line x1="514.9" y1="314.6" x2="518.4" y2="314.6" stroke="#111" stroke-width="1.1"/>
<text x="512.5" y="317.1" font-size="7.2" text-anchor="end" font-weight="normal" font-style="normal" fill="#262626" stroke="#262626" stroke-width="0.18">0</text>
<line x1="514.9" y1="282.3" x2="518.4" y2="282.3" stroke="#111" stroke-width="1.1"/>
<text x="512.5" y="284.8" font-size="7.2" text-anchor="end" font-weight="normal" font-style="normal" fill="#262626" stroke="#262626" stroke-width="0.18">500</text>
<line x1="514.9" y1="250.0" x2="518.4" y2="250.0" stroke="#111" stroke-width="1.1"/>
<text x="512.5" y="252.5" font-size="7.2" text-anchor="end" font-weight="normal" font-style="normal" fill="#262626" stroke="#262626" stroke-width="0.18">1000</text>
<line x1="514.9" y1="217.70000000000002" x2="518.4" y2="217.70000000000002" stroke="#111" stroke-width="1.1"/>
<text x="512.5" y="220.20000000000002" font-size="7.2" text-anchor="end" font-weight="normal" font-style="normal" fill="#262626" stroke="#262626" stroke-width="0.18">1500</text>
<line x1="514.8" y1="314.6" x2="640.5" y2="314.6" stroke="#222" stroke-width="1.2"/>
<rect x="542.5" y="291.4732" width="15.0" height="23.126800000000003" fill="#097B94" stroke="#111" stroke-width="1.1"/>
<line x1="542.5" y1="314.6" x2="542.5" y2="318.6" stroke="#222" stroke-width="1.1"/>
<rect x="582.3" y="265.1164" width="15.0" height="49.483600000000024" fill="#097B94" stroke="#111" stroke-width="1.1"/>
<line x1="582.3" y1="314.6" x2="582.3" y2="318.6" stroke="#222" stroke-width="1.1"/>
<rect x="605.6" y="312.14520000000005" width="16.0" height="2.4547999999999774" fill="#C0088C" stroke="#111" stroke-width="1.1"/>
<rect x="621.6" y="234.49600000000004" width="15.0" height="80.10399999999998" fill="#097B94" stroke="#111" stroke-width="1.1"/>
<line x1="621.6" y1="314.6" x2="621.6" y2="318.6" stroke="#222" stroke-width="1.1"/>
<text x="542.4" y="325.9" font-size="7.0" text-anchor="middle" font-weight="normal" font-style="normal" fill="#262626" stroke="#262626" stroke-width="0.18">1×10<tspan font-size="4.5" dy="-2.8">4</tspan></text>
<text x="582.1999999999999" y="325.9" font-size="7.0" text-anchor="middle" font-weight="normal" font-style="normal" fill="#262626" stroke="#262626" stroke-width="0.18">2×10<tspan font-size="4.5" dy="-2.8">4</tspan></text>
<text x="621.5" y="325.9" font-size="7.0" text-anchor="middle" font-weight="normal" font-style="normal" fill="#262626" stroke="#262626" stroke-width="0.18">4×10<tspan font-size="4.5" dy="-2.8">4</tspan></text>
<text x="581.8" y="336.2" font-size="8.9" text-anchor="middle" font-weight="normal" font-style="normal" fill="#262626" stroke="#262626" stroke-width="0.18">Number of APCs</text>
<text x="490.6" y="269.9" font-size="8.8" text-anchor="middle" font-weight="normal" font-style="normal" fill="#2a2a2a" stroke="#2a2a2a" stroke-width="0.18" transform="rotate(-90 490.6 269.9)">Fluorescence (units)</text>
<text x="542.4" y="237.8" font-size="7.5" text-anchor="middle" font-weight="normal" font-style="normal" fill="#262626" stroke="#262626" stroke-width="0.18">p &lt; 0.0001</text>
<line x1="561.8" y1="225.0" x2="561.8" y2="244.8" stroke="#333" stroke-width="1.1"/>
<rect x="566.1" y="225.8" width="12.4" height="6.0" fill="#C0088C" stroke="#111" stroke-width="0.9"/>
<rect x="566.1" y="238.2" width="12.4" height="6.0" fill="#097B94" stroke="#111" stroke-width="0.9"/>
<text x="582.4" y="231.8" font-size="8.2" text-anchor="start" font-weight="normal" font-style="normal" fill="#262626" stroke="#262626" stroke-width="0.18">HA<tspan font-size="5" dy="-3">-</tspan></text>
<text x="582.4" y="244.0" font-size="8.2" text-anchor="start" font-weight="normal" font-style="normal" fill="#262626" stroke="#262626" stroke-width="0.18">HA<tspan font-size="5" dy="-3">+</tspan></text>
<circle cx="528.9" cy="314.6" r="1.9" fill="#C0088C" stroke="#111" stroke-width="0.9"/>
<circle cx="534.7" cy="314.6" r="1.9" fill="#C0088C" stroke="#111" stroke-width="0.9"/>
<circle cx="540.6" cy="314.6" r="1.9" fill="#C0088C" stroke="#111" stroke-width="0.9"/>
<circle cx="567.8" cy="314.6" r="1.9" fill="#C0088C" stroke="#111" stroke-width="0.9"/>
<circle cx="573.9" cy="314.6" r="1.9" fill="#C0088C" stroke="#111" stroke-width="0.9"/>
<circle cx="579.8" cy="314.6" r="1.9" fill="#C0088C" stroke="#111" stroke-width="0.9"/>
<line x1="550.0" y1="287.4" x2="550.0" y2="291.5" stroke="#111" stroke-width="1.0"/>
<line x1="547.0" y1="287.4" x2="553.0" y2="287.4" stroke="#111" stroke-width="1.0"/>
<line x1="589.5" y1="260.4" x2="589.5" y2="265.2" stroke="#111" stroke-width="1.0"/>
<line x1="583.5" y1="260.4" x2="595.5" y2="260.4" stroke="#111" stroke-width="1.0"/>
<line x1="629.0" y1="228.4" x2="629.0" y2="234.2" stroke="#111" stroke-width="1.0"/>
<line x1="626.0" y1="228.4" x2="632.0" y2="228.4" stroke="#111" stroke-width="1.0"/>
<line x1="613.4" y1="309.0" x2="613.4" y2="312.2" stroke="#111" stroke-width="1.0"/>
<line x1="610.4" y1="309.0" x2="616.4" y2="309.0" stroke="#111" stroke-width="1.0"/>
<circle cx="550.0" cy="283.7" r="1.9" fill="#097B94" stroke="#111" stroke-width="0.9"/>
<circle cx="544.7" cy="296.4" r="1.9" fill="#097B94" stroke="#111" stroke-width="0.9"/>
<circle cx="555.6" cy="293.5" r="1.9" fill="#097B94" stroke="#111" stroke-width="0.9"/>
<circle cx="583.4" cy="260.4" r="1.9" fill="#097B94" stroke="#111" stroke-width="0.9"/>
<circle cx="595.6" cy="260.4" r="1.9" fill="#097B94" stroke="#111" stroke-width="0.9"/>
<circle cx="589.5" cy="273.3" r="1.9" fill="#097B94" stroke="#111" stroke-width="0.9"/>
<circle cx="628.4" cy="224.3" r="1.9" fill="#097B94" stroke="#111" stroke-width="0.9"/>
<circle cx="628.4" cy="234.7" r="1.9" fill="#097B94" stroke="#111" stroke-width="0.9"/>
<circle cx="628.4" cy="243.3" r="1.9" fill="#097B94" stroke="#111" stroke-width="0.9"/>
<circle cx="613.4" cy="304.9" r="1.9" fill="#C0088C" stroke="#111" stroke-width="0.9"/>
<circle cx="607.3" cy="313.4" r="1.9" fill="#C0088C" stroke="#111" stroke-width="0.9"/>
<circle cx="619.4" cy="313.4" r="1.9" fill="#C0088C" stroke="#111" stroke-width="0.9"/>
</svg></body></html>
